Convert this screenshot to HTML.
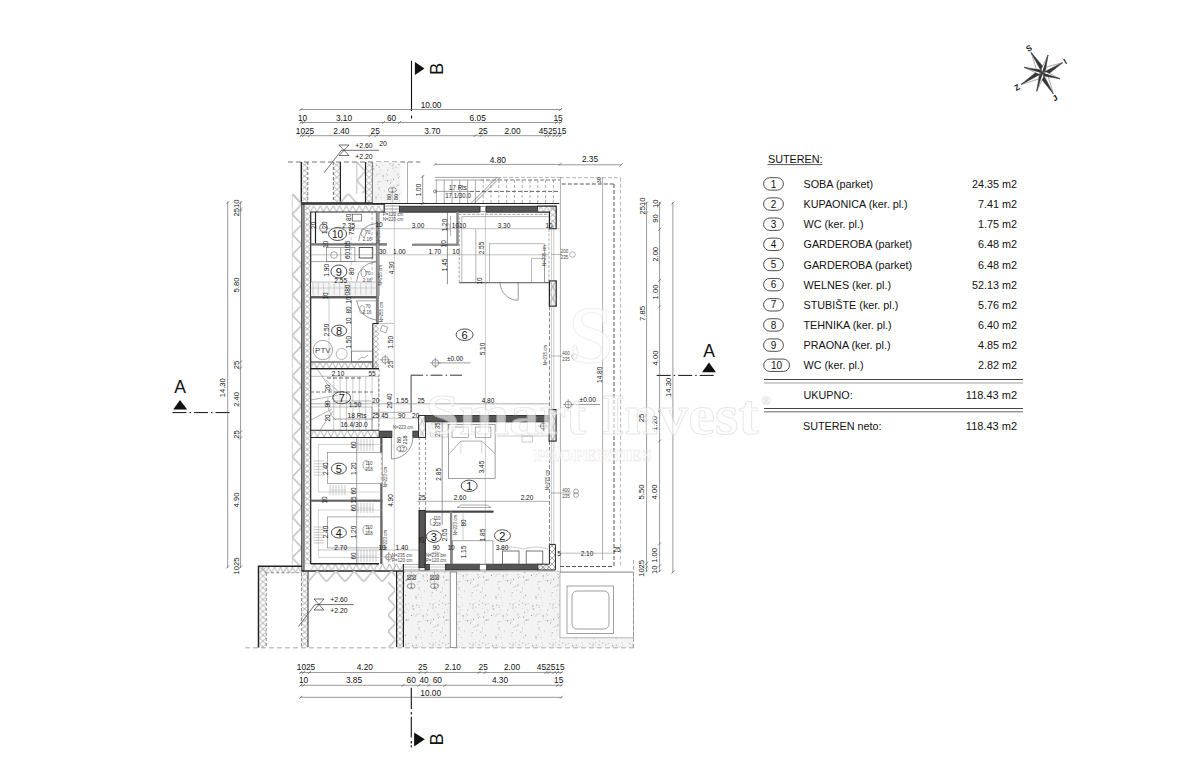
<!DOCTYPE html><html><head><meta charset="utf-8"><style>html,body{margin:0;padding:0;background:#fff;}svg{display:block;}text{font-family:"Liberation Sans",sans-serif;}</style></head><body>
<svg width="1200" height="771" viewBox="0 0 1200 771">
<defs>
<pattern id="xh" width="6" height="6" patternUnits="userSpaceOnUse"><path d="M0,0L6,6M6,0L0,6" stroke="#777" stroke-width="0.6"/></pattern>
<pattern id="zz" width="10" height="10" patternUnits="userSpaceOnUse"><path d="M0,0L10,10M10,0L0,10" stroke="#bbb" stroke-width="1.4"/></pattern>
<pattern id="st" width="40" height="40" patternUnits="userSpaceOnUse"><rect width="40" height="40" fill="#f3f3f3"/><circle cx="13.0" cy="6.0" r="0.51" fill="#777"/><circle cx="32.9" cy="3.8" r="0.50" fill="#bbb"/><circle cx="8.6" cy="3.4" r="0.45" fill="#888"/><circle cx="3.6" cy="17.0" r="0.56" fill="#777"/><circle cx="37.9" cy="25.2" r="0.50" fill="#777"/><circle cx="23.1" cy="15.9" r="0.59" fill="#777"/><circle cx="22.3" cy="5.3" r="0.45" fill="#bbb"/><circle cx="4.7" cy="12.3" r="0.55" fill="#888"/><circle cx="4.1" cy="22.8" r="0.40" fill="#777"/><circle cx="21.9" cy="2.5" r="0.36" fill="#888"/><circle cx="19.9" cy="21.3" r="0.54" fill="#aaa"/><circle cx="23.4" cy="18.1" r="0.42" fill="#888"/><circle cx="28.0" cy="9.8" r="0.49" fill="#bbb"/><circle cx="19.8" cy="13.7" r="0.46" fill="#bbb"/><circle cx="39.2" cy="4.7" r="0.45" fill="#999"/><circle cx="6.1" cy="19.6" r="0.36" fill="#777"/><circle cx="30.6" cy="22.9" r="0.57" fill="#999"/><circle cx="13.6" cy="14.0" r="0.47" fill="#aaa"/><circle cx="2.8" cy="3.7" r="0.42" fill="#777"/><circle cx="2.4" cy="28.1" r="0.51" fill="#aaa"/><circle cx="11.4" cy="15.4" r="0.52" fill="#777"/><circle cx="37.6" cy="14.2" r="0.50" fill="#aaa"/><circle cx="2.4" cy="30.7" r="0.38" fill="#888"/><circle cx="15.9" cy="36.7" r="0.47" fill="#888"/><circle cx="18.0" cy="22.0" r="0.57" fill="#aaa"/><circle cx="34.6" cy="11.1" r="0.45" fill="#999"/><circle cx="27.3" cy="15.2" r="0.41" fill="#777"/><circle cx="7.0" cy="9.3" r="0.41" fill="#aaa"/><circle cx="33.2" cy="7.3" r="0.42" fill="#888"/><circle cx="16.8" cy="14.8" r="0.49" fill="#888"/><circle cx="27.6" cy="20.6" r="0.50" fill="#777"/><circle cx="18.3" cy="34.8" r="0.59" fill="#bbb"/><circle cx="15.7" cy="16.0" r="0.38" fill="#aaa"/><circle cx="2.5" cy="2.7" r="0.40" fill="#888"/><circle cx="4.4" cy="24.0" r="0.38" fill="#bbb"/><circle cx="6.1" cy="4.1" r="0.44" fill="#777"/><circle cx="2.8" cy="8.3" r="0.44" fill="#999"/><circle cx="38.2" cy="24.1" r="0.47" fill="#777"/><circle cx="34.0" cy="39.7" r="0.47" fill="#aaa"/><circle cx="12.5" cy="5.8" r="0.54" fill="#999"/><circle cx="19.1" cy="27.7" r="0.48" fill="#888"/><circle cx="38.0" cy="21.1" r="0.39" fill="#bbb"/><circle cx="36.6" cy="30.3" r="0.42" fill="#777"/><circle cx="27.8" cy="10.4" r="0.44" fill="#888"/><circle cx="14.2" cy="8.9" r="0.49" fill="#bbb"/><circle cx="13.2" cy="8.9" r="0.55" fill="#888"/><circle cx="32.2" cy="32.7" r="0.53" fill="#888"/><circle cx="8.0" cy="19.7" r="0.53" fill="#777"/><circle cx="31.6" cy="18.9" r="0.40" fill="#bbb"/><circle cx="38.3" cy="17.9" r="0.58" fill="#999"/><circle cx="38.2" cy="14.6" r="0.41" fill="#888"/><circle cx="18.8" cy="13.5" r="0.47" fill="#bbb"/><circle cx="33.6" cy="19.2" r="0.51" fill="#777"/><circle cx="33.4" cy="4.8" r="0.45" fill="#888"/><circle cx="19.1" cy="7.1" r="0.55" fill="#999"/><circle cx="3.5" cy="37.8" r="0.53" fill="#aaa"/><circle cx="16.1" cy="37.9" r="0.53" fill="#888"/><circle cx="39.7" cy="1.1" r="0.50" fill="#aaa"/><circle cx="32.3" cy="5.8" r="0.56" fill="#aaa"/><circle cx="26.3" cy="14.0" r="0.49" fill="#888"/><circle cx="0.9" cy="32.0" r="0.53" fill="#777"/><circle cx="21.1" cy="37.3" r="0.46" fill="#888"/><circle cx="33.0" cy="8.4" r="0.41" fill="#999"/><circle cx="20.0" cy="30.5" r="0.43" fill="#bbb"/><circle cx="16.8" cy="5.2" r="0.58" fill="#999"/><circle cx="35.9" cy="26.5" r="0.55" fill="#bbb"/><circle cx="16.8" cy="36.7" r="0.48" fill="#bbb"/><circle cx="6.1" cy="20.4" r="0.57" fill="#888"/><circle cx="24.3" cy="31.0" r="0.39" fill="#888"/><circle cx="18.9" cy="29.0" r="0.49" fill="#999"/><circle cx="27.3" cy="21.2" r="0.47" fill="#777"/><circle cx="35.3" cy="2.3" r="0.40" fill="#777"/><circle cx="30.9" cy="20.3" r="0.49" fill="#777"/><circle cx="17.7" cy="24.5" r="0.48" fill="#bbb"/><circle cx="8.0" cy="11.1" r="0.48" fill="#aaa"/><circle cx="20.3" cy="9.9" r="0.48" fill="#999"/><circle cx="36.9" cy="35.7" r="0.40" fill="#aaa"/><circle cx="5.5" cy="4.9" r="0.46" fill="#777"/><circle cx="26.8" cy="17.1" r="0.40" fill="#999"/><circle cx="31.4" cy="35.9" r="0.39" fill="#999"/><circle cx="5.7" cy="35.3" r="0.59" fill="#888"/><circle cx="29.9" cy="3.8" r="0.57" fill="#888"/><circle cx="39.6" cy="33.3" r="0.39" fill="#aaa"/><circle cx="39.8" cy="16.2" r="0.46" fill="#999"/><circle cx="12.7" cy="28.9" r="0.35" fill="#bbb"/><circle cx="18.3" cy="28.1" r="0.45" fill="#bbb"/><circle cx="25.0" cy="20.5" r="0.37" fill="#888"/><circle cx="38.9" cy="4.2" r="0.42" fill="#777"/><circle cx="36.2" cy="7.3" r="0.54" fill="#aaa"/><circle cx="34.0" cy="27.0" r="0.59" fill="#aaa"/></pattern>
</defs>
<rect x="0" y="0" width="1200" height="771" fill="#fff" stroke="none" stroke-width="0.8" />
<path d="M1042.4,73 L1036.931803803282,71.15538341268542 L1031,52.3 Z" fill="#fff" stroke="#444" stroke-width="0.45"/>
<path d="M1042.4,73 L1043.7641961967183,67.39261658731458 L1031,52.3 Z" fill="#333" stroke="#333" stroke-width="0.5"/>
<path d="M1042.4,73 L1044.2644012765757,67.67160250357547 L1062.6,62.7 Z" fill="#fff" stroke="#444" stroke-width="0.45"/>
<path d="M1042.4,73 L1047.8075987234245,74.62039749642453 L1062.6,62.7 Z" fill="#333" stroke="#333" stroke-width="0.5"/>
<path d="M1042.4,73 L1047.816417868581,74.93375217463786 L1053.3,93.8 Z" fill="#fff" stroke="#444" stroke-width="0.45"/>
<path d="M1042.4,73 L1040.907582131419,78.55424782536214 L1053.3,93.8 Z" fill="#333" stroke="#333" stroke-width="0.5"/>
<path d="M1042.4,73 L1040.3941167623377,78.50538249687212 L1021,84.5 Z" fill="#fff" stroke="#444" stroke-width="0.45"/>
<path d="M1042.4,73 L1036.7018832376623,71.63461750312787 L1021,84.5 Z" fill="#333" stroke="#333" stroke-width="0.5"/>
<path d="M1042.4,73 L1041.3073150920725,69.10645358420028 L1048,55 Z" fill="#fff" stroke="#444" stroke-width="0.45"/>
<path d="M1042.4,73 L1045.5086849079278,70.41354641579973 L1048,55 Z" fill="#333" stroke="#333" stroke-width="0.5"/>
<path d="M1042.4,73 L1038.4369995053894,74.07547528084837 L1024,67.3 Z" fill="#fff" stroke="#444" stroke-width="0.45"/>
<path d="M1042.4,73 L1039.7390004946105,69.87252471915164 L1024,67.3 Z" fill="#333" stroke="#333" stroke-width="0.5"/>
<path d="M1042.4,73 L1046.2565738555681,71.9545345072416 L1060,78.8 Z" fill="#fff" stroke="#444" stroke-width="0.45"/>
<path d="M1042.4,73 L1044.8794261444318,76.13346549275839 L1060,78.8 Z" fill="#333" stroke="#333" stroke-width="0.5"/>
<path d="M1042.4,73 L1043.473445027888,76.9335184977451 L1036.7,91.2 Z" fill="#fff" stroke="#444" stroke-width="0.45"/>
<path d="M1042.4,73 L1039.2745549721121,75.6184815022549 L1036.7,91.2 Z" fill="#333" stroke="#333" stroke-width="0.5"/>
<text x="0" y="0" font-size="8" text-anchor="middle" fill="#111" font-weight="bold" dominant-baseline="central" transform="translate(1029 48.4) rotate(-30)" >S</text>
<text x="0" y="0" font-size="8" text-anchor="middle" fill="#111" font-weight="bold" dominant-baseline="central" transform="translate(1065.2 61.5) rotate(-30)" >I</text>
<text x="0" y="0" font-size="8" text-anchor="middle" fill="#111" font-weight="bold" dominant-baseline="central" transform="translate(1055.1 98.2) rotate(-30)" >J</text>
<text x="0" y="0" font-size="8" text-anchor="middle" fill="#111" font-weight="bold" dominant-baseline="central" transform="translate(1017.2 87.6) rotate(-30)" >Z</text>
<g>
<text x="0" y="0" font-size="10.8" text-anchor="start" fill="#111" font-weight="normal" dominant-baseline="central" transform="translate(768 158.6)" >SUTEREN:</text>
<line x1="767.5" y1="164.6" x2="822.5" y2="164.6" stroke="#111" stroke-width="0.7" />
<rect x="763.6" y="177.70000000000002" width="19.8" height="12.4" rx="6.2" fill="none" stroke="#222" stroke-width="0.8"/>
<text x="0" y="0" font-size="10" text-anchor="middle" fill="#111" font-weight="normal" dominant-baseline="central" transform="translate(773.5 184.0)" >1</text>
<text x="0" y="0" font-size="10.8" text-anchor="start" fill="#111" font-weight="normal" dominant-baseline="central" transform="translate(803.5 183.9)" >SOBA (parket)</text>
<text x="0" y="0" font-size="10.8" text-anchor="end" fill="#111" font-weight="normal" dominant-baseline="central" transform="translate(1017 183.9)" >24.35 m2</text>
<rect x="763.6" y="197.85000000000002" width="19.8" height="12.4" rx="6.2" fill="none" stroke="#222" stroke-width="0.8"/>
<text x="0" y="0" font-size="10" text-anchor="middle" fill="#111" font-weight="normal" dominant-baseline="central" transform="translate(773.5 204.15)" >2</text>
<text x="0" y="0" font-size="10.8" text-anchor="start" fill="#111" font-weight="normal" dominant-baseline="central" transform="translate(803.5 204.05)" >KUPAONICA (ker. pl.)</text>
<text x="0" y="0" font-size="10.8" text-anchor="end" fill="#111" font-weight="normal" dominant-baseline="central" transform="translate(1017 204.05)" >7.41 m2</text>
<rect x="763.6" y="218.0" width="19.8" height="12.4" rx="6.2" fill="none" stroke="#222" stroke-width="0.8"/>
<text x="0" y="0" font-size="10" text-anchor="middle" fill="#111" font-weight="normal" dominant-baseline="central" transform="translate(773.5 224.29999999999998)" >3</text>
<text x="0" y="0" font-size="10.8" text-anchor="start" fill="#111" font-weight="normal" dominant-baseline="central" transform="translate(803.5 224.2)" >WC (ker. pl.)</text>
<text x="0" y="0" font-size="10.8" text-anchor="end" fill="#111" font-weight="normal" dominant-baseline="central" transform="translate(1017 224.2)" >1.75 m2</text>
<rect x="763.6" y="238.15" width="19.8" height="12.4" rx="6.2" fill="none" stroke="#222" stroke-width="0.8"/>
<text x="0" y="0" font-size="10" text-anchor="middle" fill="#111" font-weight="normal" dominant-baseline="central" transform="translate(773.5 244.45)" >4</text>
<text x="0" y="0" font-size="10.8" text-anchor="start" fill="#111" font-weight="normal" dominant-baseline="central" transform="translate(803.5 244.35)" >GARDEROBA (parket)</text>
<text x="0" y="0" font-size="10.8" text-anchor="end" fill="#111" font-weight="normal" dominant-baseline="central" transform="translate(1017 244.35)" >6.48 m2</text>
<rect x="763.6" y="258.3" width="19.8" height="12.4" rx="6.2" fill="none" stroke="#222" stroke-width="0.8"/>
<text x="0" y="0" font-size="10" text-anchor="middle" fill="#111" font-weight="normal" dominant-baseline="central" transform="translate(773.5 264.6)" >5</text>
<text x="0" y="0" font-size="10.8" text-anchor="start" fill="#111" font-weight="normal" dominant-baseline="central" transform="translate(803.5 264.5)" >GARDEROBA (parket)</text>
<text x="0" y="0" font-size="10.8" text-anchor="end" fill="#111" font-weight="normal" dominant-baseline="central" transform="translate(1017 264.5)" >6.48 m2</text>
<rect x="763.6" y="278.45" width="19.8" height="12.4" rx="6.2" fill="none" stroke="#222" stroke-width="0.8"/>
<text x="0" y="0" font-size="10" text-anchor="middle" fill="#111" font-weight="normal" dominant-baseline="central" transform="translate(773.5 284.75)" >6</text>
<text x="0" y="0" font-size="10.8" text-anchor="start" fill="#111" font-weight="normal" dominant-baseline="central" transform="translate(803.5 284.65)" >WELNES (ker. pl.)</text>
<text x="0" y="0" font-size="10.8" text-anchor="end" fill="#111" font-weight="normal" dominant-baseline="central" transform="translate(1017 284.65)" >52.13 m2</text>
<rect x="763.6" y="298.6" width="19.8" height="12.4" rx="6.2" fill="none" stroke="#222" stroke-width="0.8"/>
<text x="0" y="0" font-size="10" text-anchor="middle" fill="#111" font-weight="normal" dominant-baseline="central" transform="translate(773.5 304.90000000000003)" >7</text>
<text x="0" y="0" font-size="10.8" text-anchor="start" fill="#111" font-weight="normal" dominant-baseline="central" transform="translate(803.5 304.8)" >STUBIŠTE (ker. pl.)</text>
<text x="0" y="0" font-size="10.8" text-anchor="end" fill="#111" font-weight="normal" dominant-baseline="central" transform="translate(1017 304.8)" >5.76 m2</text>
<rect x="763.6" y="318.75" width="19.8" height="12.4" rx="6.2" fill="none" stroke="#222" stroke-width="0.8"/>
<text x="0" y="0" font-size="10" text-anchor="middle" fill="#111" font-weight="normal" dominant-baseline="central" transform="translate(773.5 325.05)" >8</text>
<text x="0" y="0" font-size="10.8" text-anchor="start" fill="#111" font-weight="normal" dominant-baseline="central" transform="translate(803.5 324.95)" >TEHNIKA (ker. pl.)</text>
<text x="0" y="0" font-size="10.8" text-anchor="end" fill="#111" font-weight="normal" dominant-baseline="central" transform="translate(1017 324.95)" >6.40 m2</text>
<rect x="763.6" y="338.90000000000003" width="19.8" height="12.4" rx="6.2" fill="none" stroke="#222" stroke-width="0.8"/>
<text x="0" y="0" font-size="10" text-anchor="middle" fill="#111" font-weight="normal" dominant-baseline="central" transform="translate(773.5 345.20000000000005)" >9</text>
<text x="0" y="0" font-size="10.8" text-anchor="start" fill="#111" font-weight="normal" dominant-baseline="central" transform="translate(803.5 345.1)" >PRAONA (ker. pl.)</text>
<text x="0" y="0" font-size="10.8" text-anchor="end" fill="#111" font-weight="normal" dominant-baseline="central" transform="translate(1017 345.1)" >4.85 m2</text>
<rect x="763.7" y="359.05" width="25.8" height="12.4" rx="6.2" fill="none" stroke="#222" stroke-width="0.8"/>
<text x="0" y="0" font-size="10" text-anchor="middle" fill="#111" font-weight="normal" dominant-baseline="central" transform="translate(776.6 365.35)" >10</text>
<text x="0" y="0" font-size="10.8" text-anchor="start" fill="#111" font-weight="normal" dominant-baseline="central" transform="translate(803.5 365.25)" >WC (ker. pl.)</text>
<text x="0" y="0" font-size="10.8" text-anchor="end" fill="#111" font-weight="normal" dominant-baseline="central" transform="translate(1017 365.25)" >2.82 m2</text>
<line x1="764" y1="379.5" x2="1023" y2="379.5" stroke="#444" stroke-width="1" />
<line x1="764" y1="383" x2="1023" y2="383" stroke="#888" stroke-width="0.8" />
<text x="0" y="0" font-size="10.8" text-anchor="start" fill="#111" font-weight="normal" dominant-baseline="central" transform="translate(803.5 395)" >UKUPNO:</text>
<text x="0" y="0" font-size="11" text-anchor="end" fill="#111" font-weight="normal" dominant-baseline="central" transform="translate(1017 395)" >118.43 m2</text>
<line x1="764" y1="408.5" x2="1023" y2="408.5" stroke="#444" stroke-width="1" />
<line x1="764" y1="411.8" x2="1023" y2="411.8" stroke="#555" stroke-width="0.9" />
<text x="0" y="0" font-size="10.8" text-anchor="start" fill="#111" font-weight="normal" dominant-baseline="central" transform="translate(803 426)" >SUTEREN neto:</text>
<text x="0" y="0" font-size="11" text-anchor="end" fill="#111" font-weight="normal" dominant-baseline="central" transform="translate(1017 426)" >118.43 m2</text>
</g>
<line x1="411.5" y1="60.8" x2="411.5" y2="111" stroke="#111" stroke-width="1.1" />
<line x1="411.5" y1="115.5" x2="411.5" y2="118.5" stroke="#111" stroke-width="1.1" />
<path d="M414.9,62 L424.5,68.5 L414.9,75 Z" fill="#111"/>
<text x="0" y="0" font-size="18.5" text-anchor="middle" fill="#111" font-weight="normal" dominant-baseline="central" transform="translate(436.5 68.8) rotate(-90)" >B</text>
<line x1="411.3" y1="687.8" x2="411.3" y2="709" stroke="#111" stroke-width="1.1" />
<line x1="411.3" y1="712" x2="411.3" y2="714.5" stroke="#111" stroke-width="1.1" />
<line x1="411.3" y1="716.8" x2="411.3" y2="737.6" stroke="#111" stroke-width="1.1" />
<line x1="411.3" y1="741" x2="411.3" y2="743.5" stroke="#111" stroke-width="1.1" />
<line x1="411.3" y1="745.2" x2="411.3" y2="747.5" stroke="#111" stroke-width="1.1" />
<path d="M414.1,732.4 L424.8,739.3 L414.1,746.4 Z" fill="#111"/>
<text x="0" y="0" font-size="18.5" text-anchor="middle" fill="#111" font-weight="normal" dominant-baseline="central" transform="translate(436.5 739.4) rotate(-90)" >B</text>
<line x1="172.5" y1="412.6" x2="232.4" y2="412.6" stroke="#111" stroke-width="1.0" stroke-dasharray="14,3,1.5,3" />
<path d="M173.2,409.5 L180,400 L187.2,409.5 Z" fill="#111"/>
<text x="0" y="0" font-size="17.5" text-anchor="middle" fill="#111" font-weight="normal" dominant-baseline="central" transform="translate(180 387)" >A</text>
<line x1="656.7" y1="375.4" x2="716" y2="375.4" stroke="#111" stroke-width="1.0" stroke-dasharray="14,3,1.5,3" />
<path d="M702,372.3 L709,362.5 L716,372.3 Z" fill="#111"/>
<text x="0" y="0" font-size="17.5" text-anchor="middle" fill="#111" font-weight="normal" dominant-baseline="central" transform="translate(709 350.5)" >A</text>
<line x1="300" y1="109.5" x2="561.5" y2="109.5" stroke="#555" stroke-width="0.6" />
<line x1="299.5" y1="111.0" x2="302.5" y2="108.0" stroke="#444" stroke-width="0.6"/>
<line x1="559.0" y1="111.0" x2="562.0" y2="108.0" stroke="#444" stroke-width="0.6"/>
<text x="0" y="0" font-size="8.3" text-anchor="middle" fill="#111" font-weight="normal" dominant-baseline="central" transform="translate(431 104.8)" >10.00</text>
<line x1="300" y1="122.5" x2="561.5" y2="122.5" stroke="#555" stroke-width="0.6" />
<line x1="299.5" y1="124.0" x2="302.5" y2="121.0" stroke="#444" stroke-width="0.6"/>
<line x1="302.0" y1="124.0" x2="305.0" y2="121.0" stroke="#444" stroke-width="0.6"/>
<line x1="382.0" y1="124.0" x2="385.0" y2="121.0" stroke="#444" stroke-width="0.6"/>
<line x1="398.0" y1="124.0" x2="401.0" y2="121.0" stroke="#444" stroke-width="0.6"/>
<line x1="555.0" y1="124.0" x2="558.0" y2="121.0" stroke="#444" stroke-width="0.6"/>
<line x1="559.0" y1="124.0" x2="562.0" y2="121.0" stroke="#444" stroke-width="0.6"/>
<text x="0" y="0" font-size="8.3" text-anchor="middle" fill="#111" font-weight="normal" dominant-baseline="central" transform="translate(302.5 117.5)" >10</text>
<text x="0" y="0" font-size="8.3" text-anchor="middle" fill="#111" font-weight="normal" dominant-baseline="central" transform="translate(344 117.5)" >3.10</text>
<text x="0" y="0" font-size="8.3" text-anchor="middle" fill="#111" font-weight="normal" dominant-baseline="central" transform="translate(391.5 117.5)" >60</text>
<text x="0" y="0" font-size="8.3" text-anchor="middle" fill="#111" font-weight="normal" dominant-baseline="central" transform="translate(477.7 117.5)" >6.05</text>
<text x="0" y="0" font-size="8.3" text-anchor="middle" fill="#111" font-weight="normal" dominant-baseline="central" transform="translate(558 117.5)" >15</text>
<line x1="300" y1="135.7" x2="561.5" y2="135.7" stroke="#555" stroke-width="0.6" />
<line x1="299.5" y1="137.2" x2="302.5" y2="134.2" stroke="#444" stroke-width="0.6"/>
<line x1="302.0" y1="137.2" x2="305.0" y2="134.2" stroke="#444" stroke-width="0.6"/>
<line x1="308.0" y1="137.2" x2="311.0" y2="134.2" stroke="#444" stroke-width="0.6"/>
<line x1="368.5" y1="137.2" x2="371.5" y2="134.2" stroke="#444" stroke-width="0.6"/>
<line x1="374.5" y1="137.2" x2="377.5" y2="134.2" stroke="#444" stroke-width="0.6"/>
<line x1="473.5" y1="137.2" x2="476.5" y2="134.2" stroke="#444" stroke-width="0.6"/>
<line x1="479.5" y1="137.2" x2="482.5" y2="134.2" stroke="#444" stroke-width="0.6"/>
<line x1="544.5" y1="137.2" x2="547.5" y2="134.2" stroke="#444" stroke-width="0.6"/>
<line x1="547.5" y1="137.2" x2="550.5" y2="134.2" stroke="#444" stroke-width="0.6"/>
<line x1="552.5" y1="137.2" x2="555.5" y2="134.2" stroke="#444" stroke-width="0.6"/>
<line x1="556.0" y1="137.2" x2="559.0" y2="134.2" stroke="#444" stroke-width="0.6"/>
<line x1="559.0" y1="137.2" x2="562.0" y2="134.2" stroke="#444" stroke-width="0.6"/>
<text x="0" y="0" font-size="8.3" text-anchor="middle" fill="#111" font-weight="normal" dominant-baseline="central" transform="translate(305 130.8)" >1025</text>
<text x="0" y="0" font-size="8.3" text-anchor="middle" fill="#111" font-weight="normal" dominant-baseline="central" transform="translate(341.4 130.8)" >2.40</text>
<text x="0" y="0" font-size="8.3" text-anchor="middle" fill="#111" font-weight="normal" dominant-baseline="central" transform="translate(375.2 130.8)" >25</text>
<text x="0" y="0" font-size="8.3" text-anchor="middle" fill="#111" font-weight="normal" dominant-baseline="central" transform="translate(432.3 130.8)" >3.70</text>
<text x="0" y="0" font-size="8.3" text-anchor="middle" fill="#111" font-weight="normal" dominant-baseline="central" transform="translate(483 130.8)" >25</text>
<text x="0" y="0" font-size="8.3" text-anchor="middle" fill="#111" font-weight="normal" dominant-baseline="central" transform="translate(512.5 130.8)" >2.00</text>
<text x="0" y="0" font-size="8.3" text-anchor="middle" fill="#111" font-weight="normal" dominant-baseline="central" transform="translate(552.5 130.8)" >452515</text>
<line x1="299.8" y1="672.5" x2="562.3" y2="672.5" stroke="#555" stroke-width="0.6" />
<line x1="299.3" y1="674.0" x2="302.3" y2="671.0" stroke="#444" stroke-width="0.6"/>
<line x1="302.0" y1="674.0" x2="305.0" y2="671.0" stroke="#444" stroke-width="0.6"/>
<line x1="308.0" y1="674.0" x2="311.0" y2="671.0" stroke="#444" stroke-width="0.6"/>
<line x1="418.5" y1="674.0" x2="421.5" y2="671.0" stroke="#444" stroke-width="0.6"/>
<line x1="424.5" y1="674.0" x2="427.5" y2="671.0" stroke="#444" stroke-width="0.6"/>
<line x1="477.5" y1="674.0" x2="480.5" y2="671.0" stroke="#444" stroke-width="0.6"/>
<line x1="483.5" y1="674.0" x2="486.5" y2="671.0" stroke="#444" stroke-width="0.6"/>
<line x1="544.5" y1="674.0" x2="547.5" y2="671.0" stroke="#444" stroke-width="0.6"/>
<line x1="547.5" y1="674.0" x2="550.5" y2="671.0" stroke="#444" stroke-width="0.6"/>
<line x1="552.5" y1="674.0" x2="555.5" y2="671.0" stroke="#444" stroke-width="0.6"/>
<line x1="556.0" y1="674.0" x2="559.0" y2="671.0" stroke="#444" stroke-width="0.6"/>
<line x1="559.8" y1="674.0" x2="562.8" y2="671.0" stroke="#444" stroke-width="0.6"/>
<text x="0" y="0" font-size="8.3" text-anchor="middle" fill="#111" font-weight="normal" dominant-baseline="central" transform="translate(306 667.2)" >1025</text>
<text x="0" y="0" font-size="8.3" text-anchor="middle" fill="#111" font-weight="normal" dominant-baseline="central" transform="translate(364.8 667.2)" >4.20</text>
<text x="0" y="0" font-size="8.3" text-anchor="middle" fill="#111" font-weight="normal" dominant-baseline="central" transform="translate(422.7 667.2)" >25</text>
<text x="0" y="0" font-size="8.3" text-anchor="middle" fill="#111" font-weight="normal" dominant-baseline="central" transform="translate(452.8 667.2)" >2.10</text>
<text x="0" y="0" font-size="8.3" text-anchor="middle" fill="#111" font-weight="normal" dominant-baseline="central" transform="translate(483.2 667.2)" >25</text>
<text x="0" y="0" font-size="8.3" text-anchor="middle" fill="#111" font-weight="normal" dominant-baseline="central" transform="translate(512 667.2)" >2.00</text>
<text x="0" y="0" font-size="8.3" text-anchor="middle" fill="#111" font-weight="normal" dominant-baseline="central" transform="translate(550.7 667.2)" >452515</text>
<line x1="299.8" y1="685.3" x2="562.3" y2="685.3" stroke="#555" stroke-width="0.6" />
<line x1="299.3" y1="686.8" x2="302.3" y2="683.8" stroke="#444" stroke-width="0.6"/>
<line x1="302.0" y1="686.8" x2="305.0" y2="683.8" stroke="#444" stroke-width="0.6"/>
<line x1="401.5" y1="686.8" x2="404.5" y2="683.8" stroke="#444" stroke-width="0.6"/>
<line x1="417.5" y1="686.8" x2="420.5" y2="683.8" stroke="#444" stroke-width="0.6"/>
<line x1="427.5" y1="686.8" x2="430.5" y2="683.8" stroke="#444" stroke-width="0.6"/>
<line x1="443.5" y1="686.8" x2="446.5" y2="683.8" stroke="#444" stroke-width="0.6"/>
<line x1="556.0" y1="686.8" x2="559.0" y2="683.8" stroke="#444" stroke-width="0.6"/>
<line x1="559.8" y1="686.8" x2="562.8" y2="683.8" stroke="#444" stroke-width="0.6"/>
<text x="0" y="0" font-size="8.3" text-anchor="middle" fill="#111" font-weight="normal" dominant-baseline="central" transform="translate(303.5 680)" >10</text>
<text x="0" y="0" font-size="8.3" text-anchor="middle" fill="#111" font-weight="normal" dominant-baseline="central" transform="translate(354 680)" >3.85</text>
<text x="0" y="0" font-size="8.3" text-anchor="middle" fill="#111" font-weight="normal" dominant-baseline="central" transform="translate(411.2 680)" >60</text>
<text x="0" y="0" font-size="8.3" text-anchor="middle" fill="#111" font-weight="normal" dominant-baseline="central" transform="translate(424 680)" >40</text>
<text x="0" y="0" font-size="8.3" text-anchor="middle" fill="#111" font-weight="normal" dominant-baseline="central" transform="translate(437.3 680)" >60</text>
<text x="0" y="0" font-size="8.3" text-anchor="middle" fill="#111" font-weight="normal" dominant-baseline="central" transform="translate(500 680)" >4.30</text>
<text x="0" y="0" font-size="8.3" text-anchor="middle" fill="#111" font-weight="normal" dominant-baseline="central" transform="translate(558.7 680)" >15</text>
<line x1="299.8" y1="697.3" x2="562.3" y2="697.3" stroke="#555" stroke-width="0.6" />
<line x1="299.3" y1="698.8" x2="302.3" y2="695.8" stroke="#444" stroke-width="0.6"/>
<line x1="559.8" y1="698.8" x2="562.8" y2="695.8" stroke="#444" stroke-width="0.6"/>
<text x="0" y="0" font-size="8.3" text-anchor="middle" fill="#111" font-weight="normal" dominant-baseline="central" transform="translate(430.7 692.8)" >10.00</text>
<line x1="227.7" y1="201.6" x2="227.7" y2="568" stroke="#555" stroke-width="0.6" />
<line x1="226.2" y1="204.1" x2="229.2" y2="201.1" stroke="#444" stroke-width="0.6"/>
<line x1="226.2" y1="568.5" x2="229.2" y2="565.5" stroke="#444" stroke-width="0.6"/>
<line x1="240.6" y1="201.6" x2="240.6" y2="568" stroke="#555" stroke-width="0.6" />
<line x1="239.1" y1="204.1" x2="242.1" y2="201.1" stroke="#444" stroke-width="0.6"/>
<line x1="239.1" y1="210.5" x2="242.1" y2="207.5" stroke="#444" stroke-width="0.6"/>
<line x1="239.1" y1="212.5" x2="242.1" y2="209.5" stroke="#444" stroke-width="0.6"/>
<line x1="239.1" y1="363.5" x2="242.1" y2="360.5" stroke="#444" stroke-width="0.6"/>
<line x1="239.1" y1="369.5" x2="242.1" y2="366.5" stroke="#444" stroke-width="0.6"/>
<line x1="239.1" y1="433.5" x2="242.1" y2="430.5" stroke="#444" stroke-width="0.6"/>
<line x1="239.1" y1="439.5" x2="242.1" y2="436.5" stroke="#444" stroke-width="0.6"/>
<line x1="239.1" y1="568.5" x2="242.1" y2="565.5" stroke="#444" stroke-width="0.6"/>
<text x="0" y="0" font-size="8" text-anchor="middle" fill="#111" font-weight="normal" dominant-baseline="central" transform="translate(222.3 387.7) rotate(-90) scale(0.95 1)" >14.30</text>
<text x="0" y="0" font-size="8" text-anchor="middle" fill="#111" font-weight="normal" dominant-baseline="central" transform="translate(236 208) rotate(-90) scale(0.95 1)" >2510</text>
<text x="0" y="0" font-size="8" text-anchor="middle" fill="#111" font-weight="normal" dominant-baseline="central" transform="translate(236 285) rotate(-90) scale(0.95 1)" >5.80</text>
<text x="0" y="0" font-size="8" text-anchor="middle" fill="#111" font-weight="normal" dominant-baseline="central" transform="translate(236 365) rotate(-90) scale(0.95 1)" >25</text>
<text x="0" y="0" font-size="8" text-anchor="middle" fill="#111" font-weight="normal" dominant-baseline="central" transform="translate(236 399.4) rotate(-90) scale(0.95 1)" >2.40</text>
<text x="0" y="0" font-size="8" text-anchor="middle" fill="#111" font-weight="normal" dominant-baseline="central" transform="translate(236 434.4) rotate(-90) scale(0.95 1)" >25</text>
<text x="0" y="0" font-size="8" text-anchor="middle" fill="#111" font-weight="normal" dominant-baseline="central" transform="translate(236 500) rotate(-90) scale(0.95 1)" >4.90</text>
<text x="0" y="0" font-size="8" text-anchor="middle" fill="#111" font-weight="normal" dominant-baseline="central" transform="translate(236 566) rotate(-90) scale(0.95 1)" >1025</text>
<line x1="646.6" y1="202" x2="646.6" y2="572" stroke="#555" stroke-width="0.6" />
<line x1="645.1" y1="204.5" x2="648.1" y2="201.5" stroke="#444" stroke-width="0.6"/>
<line x1="645.1" y1="214.5" x2="648.1" y2="211.5" stroke="#444" stroke-width="0.6"/>
<line x1="645.1" y1="416.5" x2="648.1" y2="413.5" stroke="#444" stroke-width="0.6"/>
<line x1="645.1" y1="422.5" x2="648.1" y2="419.5" stroke="#444" stroke-width="0.6"/>
<line x1="645.1" y1="565.0" x2="648.1" y2="562.0" stroke="#444" stroke-width="0.6"/>
<line x1="645.1" y1="569.0" x2="648.1" y2="566.0" stroke="#444" stroke-width="0.6"/>
<line x1="645.1" y1="572.5" x2="648.1" y2="569.5" stroke="#444" stroke-width="0.6"/>
<line x1="659.6" y1="202" x2="659.6" y2="572" stroke="#555" stroke-width="0.6" />
<line x1="658.1" y1="204.5" x2="661.1" y2="201.5" stroke="#444" stroke-width="0.6"/>
<line x1="658.1" y1="206.0" x2="661.1" y2="203.0" stroke="#444" stroke-width="0.6"/>
<line x1="658.1" y1="230.9" x2="661.1" y2="227.9" stroke="#444" stroke-width="0.6"/>
<line x1="658.1" y1="281.9" x2="661.1" y2="278.9" stroke="#444" stroke-width="0.6"/>
<line x1="658.1" y1="308.2" x2="661.1" y2="305.2" stroke="#444" stroke-width="0.6"/>
<line x1="658.1" y1="411.9" x2="661.1" y2="408.9" stroke="#444" stroke-width="0.6"/>
<line x1="658.1" y1="442.5" x2="661.1" y2="439.5" stroke="#444" stroke-width="0.6"/>
<line x1="658.1" y1="545.3" x2="661.1" y2="542.3" stroke="#444" stroke-width="0.6"/>
<line x1="658.1" y1="567.3" x2="661.1" y2="564.3" stroke="#444" stroke-width="0.6"/>
<line x1="658.1" y1="572.5" x2="661.1" y2="569.5" stroke="#444" stroke-width="0.6"/>
<line x1="672.9" y1="202" x2="672.9" y2="573" stroke="#555" stroke-width="0.6" />
<line x1="671.4" y1="204.5" x2="674.4" y2="201.5" stroke="#444" stroke-width="0.6"/>
<line x1="671.4" y1="573.5" x2="674.4" y2="570.5" stroke="#444" stroke-width="0.6"/>
<text x="0" y="0" font-size="8" text-anchor="middle" fill="#111" font-weight="normal" dominant-baseline="central" transform="translate(642 313.5) rotate(-90) scale(0.95 1)" >7.85</text>
<text x="0" y="0" font-size="8" text-anchor="middle" fill="#111" font-weight="normal" dominant-baseline="central" transform="translate(668.4 387.4) rotate(-90) scale(0.95 1)" >14.30</text>
<text x="0" y="0" font-size="8" text-anchor="middle" fill="#111" font-weight="normal" dominant-baseline="central" transform="translate(642 206) rotate(-90) scale(0.95 1)" >2510</text>
<text x="0" y="0" font-size="8" text-anchor="middle" fill="#111" font-weight="normal" dominant-baseline="central" transform="translate(655.2 203.7) rotate(-90) scale(0.95 1)" >10</text>
<text x="0" y="0" font-size="8" text-anchor="middle" fill="#111" font-weight="normal" dominant-baseline="central" transform="translate(655.2 218.5) rotate(-90) scale(0.95 1)" >90</text>
<text x="0" y="0" font-size="8" text-anchor="middle" fill="#111" font-weight="normal" dominant-baseline="central" transform="translate(655.2 254.3) rotate(-90) scale(0.95 1)" >2.00</text>
<text x="0" y="0" font-size="8" text-anchor="middle" fill="#111" font-weight="normal" dominant-baseline="central" transform="translate(655 292) rotate(-90) scale(0.95 1)" >1.00</text>
<text x="0" y="0" font-size="8" text-anchor="middle" fill="#111" font-weight="normal" dominant-baseline="central" transform="translate(655 358) rotate(-90) scale(0.95 1)" >4.00</text>
<text x="0" y="0" font-size="8" text-anchor="middle" fill="#111" font-weight="normal" dominant-baseline="central" transform="translate(641.3 418.1) rotate(-90) scale(0.95 1)" >25</text>
<text x="0" y="0" font-size="8" text-anchor="middle" fill="#111" font-weight="normal" dominant-baseline="central" transform="translate(654.8 423.3) rotate(-90) scale(0.95 1)" >1.20</text>
<text x="0" y="0" font-size="8" text-anchor="middle" fill="#111" font-weight="normal" dominant-baseline="central" transform="translate(641.3 492) rotate(-90) scale(0.95 1)" >5.50</text>
<text x="0" y="0" font-size="8" text-anchor="middle" fill="#111" font-weight="normal" dominant-baseline="central" transform="translate(654.8 492) rotate(-90) scale(0.95 1)" >4.00</text>
<text x="0" y="0" font-size="8" text-anchor="middle" fill="#111" font-weight="normal" dominant-baseline="central" transform="translate(654.8 555.4) rotate(-90) scale(0.95 1)" >1.00</text>
<text x="0" y="0" font-size="8" text-anchor="middle" fill="#111" font-weight="normal" dominant-baseline="central" transform="translate(641 568.4) rotate(-90) scale(0.95 1)" >1025</text>
<text x="0" y="0" font-size="8" text-anchor="middle" fill="#111" font-weight="normal" dominant-baseline="central" transform="translate(654.8 569.7) rotate(-90) scale(0.95 1)" >10</text>
<line x1="288" y1="162" x2="420.3" y2="162" stroke="#777" stroke-width="1.0" stroke-dasharray="5,3" />
<rect x="292.6" y="194" width="8.7" height="10" fill="url(#p0)" stroke="none" stroke-width="0.8" />
<rect x="301.3" y="162" width="6.5" height="41" fill="url(#p1)" stroke="none" stroke-width="0.8" />
<line x1="301.3" y1="162" x2="301.3" y2="204" stroke="#222" stroke-width="1.4" />
<line x1="307.8" y1="162" x2="307.8" y2="203" stroke="#555" stroke-width="0.8" stroke-dasharray="3,2" />
<rect x="333.4" y="162" width="7" height="41" fill="url(#p2)" stroke="none" stroke-width="0.8" />
<line x1="333.4" y1="162" x2="333.4" y2="203" stroke="#555" stroke-width="0.8" stroke-dasharray="3,2" />
<line x1="340.4" y1="162" x2="340.4" y2="203" stroke="#222" stroke-width="1.2" />
<rect x="340.4" y="193.5" width="16.4" height="9.3" fill="url(#p3)" stroke="none" stroke-width="0.8" />
<rect x="356.8" y="162" width="8.7" height="31.5" fill="url(#p4)" stroke="none" stroke-width="0.8" />
<line x1="356.8" y1="162" x2="356.8" y2="193.5" stroke="#999" stroke-width="0.6" />
<rect x="365.5" y="162" width="7" height="41" fill="url(#p5)" stroke="none" stroke-width="0.8" />
<line x1="365.5" y1="162" x2="365.5" y2="203" stroke="#222" stroke-width="1.2" />
<line x1="372.5" y1="162" x2="372.5" y2="203" stroke="#222" stroke-width="1.2" />
<rect x="372.5" y="162" width="28" height="40.8" fill="url(#st)" stroke="none" stroke-width="0.8" />
<line x1="407.5" y1="162" x2="407.5" y2="203" stroke="#777" stroke-width="0.6" />
<line x1="301.3" y1="202.8" x2="372.5" y2="202.8" stroke="#222" stroke-width="1.2" />
<line x1="324" y1="172.9" x2="341.4" y2="150.3" stroke="#333" stroke-width="0.7" />
<path d="M339,145 L349,145 L339,155.5 L349,155.5 Z" fill="none" stroke="#333" stroke-width="0.7"/>
<line x1="341" y1="150.3" x2="379" y2="150.3" stroke="#333" stroke-width="0.7" />
<text x="0" y="0" font-size="7.6" text-anchor="middle" fill="#111" font-weight="normal" dominant-baseline="central" transform="translate(364 145) scale(0.9 1)" >+2.60</text>
<text x="0" y="0" font-size="7.6" text-anchor="middle" fill="#111" font-weight="normal" dominant-baseline="central" transform="translate(364 156) scale(0.9 1)" >+2.20</text>
<text x="0" y="0" font-size="7.6" text-anchor="middle" fill="#111" font-weight="normal" dominant-baseline="central" transform="translate(383 143) scale(0.9 1)" >20</text>
<rect x="292.3" y="194" width="9.4" height="373" fill="url(#p6)" stroke="none" stroke-width="0.8" />
<line x1="292.3" y1="194" x2="292.3" y2="567" stroke="#aaa" stroke-width="0.5" />
<rect x="301.6" y="204" width="2.5" height="367" fill="#999" stroke="#333" stroke-width="0.75" />
<line x1="302" y1="204" x2="384.2" y2="204" stroke="#222" stroke-width="1.6" />
<line x1="384.2" y1="204" x2="384.2" y2="212" stroke="#222" stroke-width="1.2" />
<rect x="304.2" y="205.5" width="6.3" height="358.5" fill="url(#p7)" stroke="none" stroke-width="0.8" />
<rect x="310.5" y="205.5" width="73.7" height="6.5" fill="url(#p8)" stroke="none" stroke-width="0.8" />
<line x1="310.7" y1="212" x2="310.7" y2="564" stroke="#222" stroke-width="1.2" />
<line x1="310.7" y1="212" x2="384.2" y2="212" stroke="#222" stroke-width="1.2" />
<line x1="384.2" y1="206" x2="400" y2="206" stroke="#666" stroke-width="0.6" />
<line x1="384.2" y1="209" x2="400" y2="209" stroke="#666" stroke-width="0.6" />
<line x1="384.2" y1="212" x2="400" y2="212" stroke="#666" stroke-width="0.6" />
<rect x="399.5" y="206.2" width="80" height="6" fill="#555" stroke="#222" stroke-width="0.8" />
<rect x="486.2" y="206.2" width="51.4" height="6" fill="#555" stroke="#222" stroke-width="0.8" />
<rect x="480.5" y="206.5" width="5" height="5.3" fill="#fff" stroke="#444" stroke-width="0.6" />
<rect x="537.6" y="206.2" width="18.6" height="6" fill="url(#p9)" stroke="none" stroke-width="0.8" />
<rect x="549.4" y="206.2" width="6.8" height="22.5" fill="url(#p10)" stroke="none" stroke-width="0.8" />
<path d="M537.6,206.2 L556.2,206.2 L556.2,228.7 L549.4,228.7 L549.4,212.2 L537.6,212.2" fill="none" stroke="#222" stroke-width="1.2"/>
<line x1="435" y1="164.4" x2="560" y2="164.4" stroke="#555" stroke-width="0.6" />
<line x1="433.5" y1="165.9" x2="436.5" y2="162.9" stroke="#444" stroke-width="0.6"/>
<line x1="558.5" y1="165.9" x2="561.5" y2="162.9" stroke="#444" stroke-width="0.6"/>
<text x="0" y="0" font-size="8.3" text-anchor="middle" fill="#111" font-weight="normal" dominant-baseline="central" transform="translate(497.8 159.5)" >4.80</text>
<line x1="560" y1="164.8" x2="621.2" y2="164.8" stroke="#555" stroke-width="0.6" />
<line x1="619.7" y1="166.3" x2="622.7" y2="163.3" stroke="#444" stroke-width="0.6"/>
<text x="0" y="0" font-size="8.3" text-anchor="middle" fill="#111" font-weight="normal" dominant-baseline="central" transform="translate(590 159)" >2.35</text>
<line x1="435" y1="177.4" x2="497" y2="177.4" stroke="#666" stroke-width="0.6" />
<line x1="497" y1="177.4" x2="560" y2="177.4" stroke="#888" stroke-width="0.6" stroke-dasharray="4,2" />
<line x1="435" y1="180" x2="480" y2="180" stroke="#666" stroke-width="0.6" />
<line x1="480" y1="180" x2="560" y2="180" stroke="#666" stroke-width="0.9" stroke-dasharray="4,2" />
<line x1="435" y1="191.4" x2="470" y2="191.4" stroke="#666" stroke-width="0.6" />
<line x1="470" y1="191.4" x2="559" y2="191.4" stroke="#555" stroke-width="0.9" stroke-dasharray="4,2" />
<line x1="436.4" y1="180" x2="436.4" y2="203.5" stroke="#666" stroke-width="0.55" />
<line x1="444.2" y1="180" x2="444.2" y2="203.5" stroke="#666" stroke-width="0.55" />
<line x1="452.0" y1="180" x2="452.0" y2="203.5" stroke="#666" stroke-width="0.55" />
<line x1="459.79999999999995" y1="180" x2="459.79999999999995" y2="203.5" stroke="#666" stroke-width="0.55" />
<line x1="467.59999999999997" y1="180" x2="467.59999999999997" y2="203.5" stroke="#666" stroke-width="0.55" />
<line x1="475.4" y1="180" x2="475.4" y2="203.5" stroke="#666" stroke-width="0.55" />
<line x1="483.2" y1="180" x2="483.2" y2="203.5" stroke="#777" stroke-width="0.6" stroke-dasharray="3,2" />
<line x1="491.0" y1="180" x2="491.0" y2="203.5" stroke="#777" stroke-width="0.6" stroke-dasharray="3,2" />
<line x1="498.79999999999995" y1="180" x2="498.79999999999995" y2="203.5" stroke="#777" stroke-width="0.6" stroke-dasharray="3,2" />
<line x1="506.59999999999997" y1="180" x2="506.59999999999997" y2="203.5" stroke="#777" stroke-width="0.6" stroke-dasharray="3,2" />
<line x1="514.4" y1="180" x2="514.4" y2="203.5" stroke="#777" stroke-width="0.6" stroke-dasharray="3,2" />
<line x1="522.1999999999999" y1="180" x2="522.1999999999999" y2="203.5" stroke="#777" stroke-width="0.6" stroke-dasharray="3,2" />
<line x1="530.0" y1="180" x2="530.0" y2="203.5" stroke="#777" stroke-width="0.6" stroke-dasharray="3,2" />
<line x1="537.8" y1="180" x2="537.8" y2="203.5" stroke="#777" stroke-width="0.6" stroke-dasharray="3,2" />
<line x1="545.6" y1="180" x2="545.6" y2="203.5" stroke="#777" stroke-width="0.6" stroke-dasharray="3,2" />
<line x1="553.4" y1="180" x2="553.4" y2="203.5" stroke="#777" stroke-width="0.6" stroke-dasharray="3,2" />
<line x1="471.4" y1="203" x2="497" y2="177.4" stroke="#555" stroke-width="0.6" />
<line x1="474.5" y1="203" x2="500" y2="177.4" stroke="#555" stroke-width="0.6" />
<line x1="372.5" y1="203.5" x2="559.3" y2="203.5" stroke="#222" stroke-width="1.0" />
<text x="0" y="0" font-size="7" text-anchor="middle" fill="#222" font-weight="normal" dominant-baseline="central" transform="translate(458 187.5) scale(0.88 1)" >17 Rts</text>
<text x="0" y="0" font-size="7" text-anchor="middle" fill="#222" font-weight="normal" dominant-baseline="central" transform="translate(458 195.3) scale(0.88 1)" >17.1/30.0</text>
<line x1="560" y1="177.7" x2="620.6" y2="177.7" stroke="#888" stroke-width="0.6" stroke-dasharray="4,2" />
<line x1="620.6" y1="177.7" x2="620.6" y2="567" stroke="#888" stroke-width="0.6" stroke-dasharray="4,2" />
<line x1="561.8" y1="184" x2="614" y2="184" stroke="#555" stroke-width="1.0" stroke-dasharray="4,2" />
<line x1="614" y1="184" x2="614" y2="566.5" stroke="#555" stroke-width="1.0" stroke-dasharray="4,2" />
<line x1="560" y1="566.5" x2="614" y2="566.5" stroke="#555" stroke-width="1.0" stroke-dasharray="4,2" />
<line x1="602.6" y1="177" x2="602.6" y2="560" stroke="#777" stroke-width="0.6" />
<line x1="560.4" y1="177" x2="560.4" y2="572" stroke="#777" stroke-width="0.6" />
<rect x="549.4" y="280.9" width="6.8" height="25.3" fill="url(#p11)" stroke="#222" stroke-width="1.2" />
<line x1="549.5" y1="306.2" x2="549.5" y2="409.6" stroke="#555" stroke-width="0.7" stroke-dasharray="4,2" />
<line x1="549.5" y1="441" x2="549.5" y2="544" stroke="#555" stroke-width="0.7" stroke-dasharray="4,2" />
<line x1="551.6" y1="228.7" x2="551.6" y2="544" stroke="#999" stroke-width="0.5" />
<line x1="553.8" y1="228.7" x2="553.8" y2="544" stroke="#999" stroke-width="0.5" />
<rect x="537.8" y="564.2" width="11.6" height="5.8" fill="url(#p12)" stroke="none" stroke-width="0.8" />
<path d="M537.8,564.2 L549.4,564.2 L549.4,544.4 L555.4,544.4 L555.4,570 L537.8,570" fill="url(#xh)" stroke="#222" stroke-width="1.0"/>
<line x1="302" y1="571" x2="403.4" y2="571" stroke="#222" stroke-width="1.6" />
<rect x="310.7" y="564" width="68" height="7" fill="url(#p13)" stroke="none" stroke-width="0.8" />
<line x1="310.7" y1="564" x2="379" y2="564" stroke="#222" stroke-width="1.2" />
<line x1="403.4" y1="571" x2="403.4" y2="564" stroke="#222" stroke-width="1.2" />
<rect x="379" y="563.8" width="24" height="7" fill="url(#p14)" stroke="none" stroke-width="0.8" />
<rect x="419.1" y="510.5" width="6.1" height="57.2" fill="#555" stroke="#222" stroke-width="0.8" />
<rect x="419.1" y="563.8" width="6.1" height="6.4" fill="#fff" stroke="#333" stroke-width="0.6" />
<line x1="403.4" y1="564.5" x2="419.1" y2="564.5" stroke="#666" stroke-width="0.5" />
<line x1="403.4" y1="567" x2="419.1" y2="567" stroke="#888" stroke-width="0.5" />
<line x1="403.4" y1="570" x2="419.1" y2="570" stroke="#555" stroke-width="0.6" />
<line x1="425.2" y1="564.5" x2="445.5" y2="564.5" stroke="#666" stroke-width="0.5" />
<line x1="425.2" y1="567" x2="445.5" y2="567" stroke="#888" stroke-width="0.5" />
<line x1="425.2" y1="570" x2="445.5" y2="570" stroke="#555" stroke-width="0.6" />
<line x1="425.2" y1="511.7" x2="493.4" y2="511.7" stroke="#444" stroke-width="1.8" />
<rect x="445.5" y="564.2" width="33.9" height="5.8" fill="#555" stroke="#222" stroke-width="0.8" />
<rect x="486.4" y="564.2" width="51.4" height="5.8" fill="#555" stroke="#222" stroke-width="0.8" />
<rect x="479.4" y="564.2" width="7" height="5.8" fill="#fff" stroke="#333" stroke-width="0.6" />
<line x1="403.5" y1="572.2" x2="633.5" y2="572.2" stroke="#333" stroke-width="1.1" />
<rect x="403.5" y="572" width="230" height="75.6" fill="url(#st)" stroke="none" stroke-width="0.8" />
<rect x="450.2" y="572" width="6.5" height="75.6" fill="#fff" stroke="#555" stroke-width="0.6" />
<line x1="245" y1="647.8" x2="633.5" y2="647.8" stroke="#999" stroke-width="0.8" stroke-dasharray="5,3" />
<rect x="560" y="572.5" width="73.5" height="65.3" fill="#fff" stroke="#999" stroke-width="0.7" />
<line x1="633.5" y1="560" x2="633.5" y2="648" stroke="#888" stroke-width="0.7" stroke-dasharray="4,2" />
<rect x="567" y="586" width="46.6" height="47.5" fill="none" stroke="#777" stroke-width="0.7" />
<rect x="572" y="591" width="37" height="38" rx="5" fill="none" stroke="#777" stroke-width="0.7"/>
<path d="M258.5,647.4 L258.5,566.3 L302,566.3" fill="none" stroke="#222" stroke-width="1.5"/>
<rect x="259.5" y="567" width="6.8" height="80.4" fill="url(#p15)" stroke="none" stroke-width="0.8" />
<rect x="259.5" y="567" width="42.5" height="6" fill="url(#p16)" stroke="none" stroke-width="0.8" />
<line x1="266.3" y1="573" x2="266.3" y2="647" stroke="#666" stroke-width="0.7" stroke-dasharray="3,2" />
<line x1="266.3" y1="572.8" x2="301.3" y2="572.8" stroke="#666" stroke-width="0.7" stroke-dasharray="3,2" />
<line x1="301.5" y1="573" x2="301.5" y2="647" stroke="#666" stroke-width="0.7" stroke-dasharray="3,2" />
<rect x="301.3" y="571" width="6.7" height="76.4" fill="url(#p17)" stroke="none" stroke-width="0.8" />
<line x1="308" y1="571" x2="308" y2="647" stroke="#333" stroke-width="1.0" />
<rect x="308" y="571" width="87.6" height="10.9" fill="url(#p18)" stroke="none" stroke-width="0.8" />
<rect x="387.9" y="581.9" width="7.7" height="65.5" fill="url(#p19)" stroke="none" stroke-width="0.8" />
<rect x="396.6" y="571" width="6.8" height="76.4" fill="url(#p20)" stroke="none" stroke-width="0.8" />
<line x1="396.6" y1="571" x2="396.6" y2="647" stroke="#222" stroke-width="1.2" />
<line x1="403.4" y1="571" x2="403.4" y2="647" stroke="#222" stroke-width="1.2" />
<line x1="298.4" y1="626.6" x2="314.9" y2="604.6" stroke="#333" stroke-width="0.7" />
<path d="M314,599 L324,599 L314,610 L324,610 Z" fill="none" stroke="#333" stroke-width="0.7"/>
<line x1="314.9" y1="604.6" x2="353.8" y2="604.6" stroke="#333" stroke-width="0.7" />
<text x="0" y="0" font-size="7.6" text-anchor="middle" fill="#111" font-weight="normal" dominant-baseline="central" transform="translate(339 599) scale(0.9 1)" >+2.60</text>
<text x="0" y="0" font-size="7.6" text-anchor="middle" fill="#111" font-weight="normal" dominant-baseline="central" transform="translate(339 610) scale(0.9 1)" >+2.20</text>
<line x1="315.5" y1="212" x2="315.5" y2="243.2" stroke="#222" stroke-width="1.2" />
<rect x="310.7" y="243.2" width="76.2" height="2.4" fill="#777" stroke="none" stroke-width="0.8" />
<line x1="376.4" y1="212" x2="376.4" y2="323.5" stroke="#333" stroke-width="0.8" />
<line x1="378.9" y1="212" x2="378.9" y2="296" stroke="#333" stroke-width="0.8" />
<rect x="376.4" y="212" width="2.5" height="84" fill="#999" stroke="none" stroke-width="0.8" />
<line x1="372.1" y1="212" x2="372.1" y2="296" stroke="#777" stroke-width="0.6" stroke-dasharray="3,2" />
<line x1="351.2" y1="212" x2="351.2" y2="296" stroke="#999" stroke-width="0.5" stroke-dasharray="3,2" />
<ellipse cx="337.6" cy="234" rx="9" ry="6.5" fill="none" stroke="#222" stroke-width="0.8"/>
<text x="0" y="0" font-size="10" text-anchor="middle" fill="#111" font-weight="normal" dominant-baseline="central" transform="translate(337.6 234.3)" >10</text>
<circle cx="323.5" cy="227.8" r="4" fill="none" stroke="#555" stroke-width="0.7"/>
<rect x="352.4" y="214.2" width="9.2" height="6.8" fill="none" stroke="#555" stroke-width="0.7" />
<path d="M358.6,241.3 Q360,225 376,223.5" fill="none" stroke="#555" stroke-width="0.6"/>
<ellipse cx="363.5" cy="232.7" rx="2.5" ry="4" fill="none" stroke="#777" stroke-width="0.6"/>
<line x1="320" y1="228.7" x2="560" y2="228.7" stroke="#888" stroke-width="0.5" />
<rect x="326.6" y="247.5" width="28.3" height="14.1" fill="none" stroke="#666" stroke-width="0.6" />
<line x1="340.7" y1="247.5" x2="340.7" y2="261.6" stroke="#666" stroke-width="0.6" />
<circle cx="334" cy="255" r="3.3" fill="none" stroke="#666" stroke-width="0.6"/>
<rect x="359.2" y="247.5" width="13.5" height="10.5" fill="none" stroke="#444" stroke-width="0.9" />
<line x1="310.7" y1="261.6" x2="376.4" y2="261.6" stroke="#666" stroke-width="0.6" />
<ellipse cx="338.9" cy="271.5" rx="8" ry="6.5" fill="none" stroke="#222" stroke-width="0.8"/>
<text x="0" y="0" font-size="11" text-anchor="middle" fill="#111" font-weight="normal" dominant-baseline="central" transform="translate(338.9 271.8)" >9</text>
<path d="M356.7,281.4 Q358,264 376.4,261.6" fill="none" stroke="#555" stroke-width="0.6"/>
<ellipse cx="363.5" cy="273" rx="2.5" ry="4" fill="none" stroke="#777" stroke-width="0.6"/>
<rect x="311" y="282" width="65" height="14" fill="#f4f4f4" stroke="none" stroke-width="0.8" />
<line x1="313.0" y1="283" x2="313.0" y2="295" stroke="#999" stroke-width="0.4" />
<line x1="318.3" y1="283" x2="318.3" y2="295" stroke="#999" stroke-width="0.4" />
<line x1="323.6" y1="283" x2="323.6" y2="295" stroke="#999" stroke-width="0.4" />
<line x1="328.9" y1="283" x2="328.9" y2="295" stroke="#999" stroke-width="0.4" />
<line x1="334.2" y1="283" x2="334.2" y2="295" stroke="#999" stroke-width="0.4" />
<line x1="339.5" y1="283" x2="339.5" y2="295" stroke="#999" stroke-width="0.4" />
<line x1="344.8" y1="283" x2="344.8" y2="295" stroke="#999" stroke-width="0.4" />
<line x1="350.1" y1="283" x2="350.1" y2="295" stroke="#999" stroke-width="0.4" />
<line x1="355.4" y1="283" x2="355.4" y2="295" stroke="#999" stroke-width="0.4" />
<line x1="360.7" y1="283" x2="360.7" y2="295" stroke="#999" stroke-width="0.4" />
<line x1="366.0" y1="283" x2="366.0" y2="295" stroke="#999" stroke-width="0.4" />
<line x1="371.3" y1="283" x2="371.3" y2="295" stroke="#999" stroke-width="0.4" />
<line x1="311" y1="282" x2="376" y2="282" stroke="#888" stroke-width="0.5" />
<line x1="311" y1="288" x2="376" y2="288" stroke="#aaa" stroke-width="0.5" />
<rect x="310.7" y="296.1" width="68" height="2.3" fill="#555" stroke="none" stroke-width="0.8" />
<line x1="310.7" y1="362" x2="372.8" y2="362" stroke="#222" stroke-width="1.2" />
<rect x="310.7" y="362" width="68" height="6.2" fill="url(#p21)" stroke="none" stroke-width="0.8" />
<line x1="310.7" y1="368.7" x2="379" y2="368.7" stroke="#222" stroke-width="1.2" />
<rect x="372.8" y="323.5" width="5.9" height="45" fill="url(#p22)" stroke="none" stroke-width="0.8" />
<rect x="376.5" y="296" width="2.4" height="27.5" fill="#888" stroke="none" stroke-width="0.8" />
<path d="M372.8,368 L372.8,323.5 L378.7,323.5" fill="none" stroke="#222" stroke-width="1.0"/>
<ellipse cx="339.1" cy="330.6" rx="7.5" ry="5.5" fill="none" stroke="#222" stroke-width="0.8"/>
<text x="0" y="0" font-size="11" text-anchor="middle" fill="#111" font-weight="normal" dominant-baseline="central" transform="translate(339.1 330.90000000000003)" >8</text>
<circle cx="322.9" cy="350" r="9.7" fill="none" stroke="#666" stroke-width="0.6"/>
<text x="0" y="0" font-size="8" text-anchor="middle" fill="#444" font-weight="normal" dominant-baseline="central" transform="translate(322.9 350.5)" >PTV</text>
<circle cx="341.7" cy="354" r="5.5" fill="none" stroke="#888" stroke-width="0.6"/>
<rect x="351.7" y="351.1" width="21.1" height="10.9" fill="none" stroke="#555" stroke-width="0.6" />
<path d="M358,360 L362,357 L364,358 L368,355" fill="none" stroke="#555" stroke-width="0.5"/>
<path d="M356.6,300.8 Q360,318 376.7,320.2" fill="none" stroke="#555" stroke-width="0.6"/>
<line x1="356.6" y1="300.8" x2="376.7" y2="300.8" stroke="#777" stroke-width="0.6" />
<line x1="351.4" y1="300" x2="351.4" y2="362" stroke="#666" stroke-width="0.6" />
<line x1="329" y1="298" x2="329" y2="362" stroke="#999" stroke-width="0.5" />
<ellipse cx="362" cy="309.5" rx="2.5" ry="4" fill="none" stroke="#777" stroke-width="0.6"/>
<rect x="381" y="326" width="6" height="6" fill="none" stroke="#777" stroke-width="0.6" transform="rotate(20 384 329)"/>
<circle cx="385.2" cy="359.8" r="3.3" fill="none" stroke="#555" stroke-width="0.6"/>
<line x1="379.9" y1="359.8" x2="390.5" y2="359.8" stroke="#555" stroke-width="0.5" />
<line x1="385.2" y1="354.5" x2="385.2" y2="365.1" stroke="#555" stroke-width="0.5" />
<line x1="378.7" y1="323.5" x2="394" y2="323.5" stroke="#888" stroke-width="0.5" />
<line x1="310.7" y1="368.7" x2="379" y2="368.7" stroke="#222" stroke-width="1.2" />
<line x1="310.7" y1="376.3" x2="379" y2="376.3" stroke="#777" stroke-width="0.5" />
<line x1="310.7" y1="407" x2="372" y2="407" stroke="#777" stroke-width="0.5" />
<line x1="333.7" y1="376.3" x2="333.7" y2="430" stroke="#999" stroke-width="0.5" />
<line x1="340.09999999999997" y1="376.3" x2="340.09999999999997" y2="430" stroke="#999" stroke-width="0.5" />
<line x1="346.5" y1="376.3" x2="346.5" y2="430" stroke="#999" stroke-width="0.5" />
<line x1="352.9" y1="376.3" x2="352.9" y2="430" stroke="#999" stroke-width="0.5" />
<line x1="359.3" y1="376.3" x2="359.3" y2="430" stroke="#999" stroke-width="0.5" />
<line x1="365.7" y1="376.3" x2="365.7" y2="430" stroke="#999" stroke-width="0.5" />
<line x1="372.1" y1="376.3" x2="372.1" y2="430" stroke="#999" stroke-width="0.5" />
<line x1="378.5" y1="376.3" x2="378.5" y2="430" stroke="#999" stroke-width="0.5" />
<line x1="327" y1="378" x2="361" y2="378" stroke="#555" stroke-width="0.9" stroke-dasharray="4,2" />
<line x1="310" y1="392" x2="373" y2="392" stroke="#666" stroke-width="0.9" stroke-dasharray="4,2" />
<line x1="333" y1="401" x2="371" y2="401" stroke="#666" stroke-width="0.5" />
<line x1="333.7" y1="419" x2="373" y2="419" stroke="#666" stroke-width="0.6" />
<path d="M326,380 L341,394 M311,400 L338,395 M311,420 L332,409 M320,430 L333,411 M318,370 L332,391" fill="none" stroke="#666" stroke-width="0.5"/>
<path d="M336,420 A22,22 0 0,1 328,398" fill="none" stroke="#777" stroke-width="0.5"/>
<ellipse cx="341.7" cy="397.7" rx="9" ry="6" fill="none" stroke="#222" stroke-width="0.8"/>
<text x="0" y="0" font-size="11" text-anchor="middle" fill="#111" font-weight="normal" dominant-baseline="central" transform="translate(341.7 398.0)" >7</text>
<line x1="379" y1="368.7" x2="379" y2="430" stroke="#666" stroke-width="0.7" stroke-dasharray="3,2" />
<line x1="394.3" y1="212" x2="394.3" y2="571" stroke="#999" stroke-width="0.5" />
<line x1="310.7" y1="430.3" x2="379" y2="430.3" stroke="#222" stroke-width="1.0" />
<rect x="310.7" y="430.3" width="68.3" height="6.7" fill="url(#p23)" stroke="none" stroke-width="0.8" />
<rect x="379" y="431" width="13" height="6.5" fill="#555" stroke="#222" stroke-width="0.6" />
<rect x="412.8" y="431" width="5.8" height="6.5" fill="#555" stroke="#222" stroke-width="0.6" />
<rect x="418.6" y="415.5" width="7" height="22" fill="url(#p24)" stroke="#222" stroke-width="0.9" />
<rect x="425" y="415.4" width="124.2" height="6.5" fill="#555" stroke="#222" stroke-width="0.8" />
<line x1="310.7" y1="437.5" x2="392" y2="437.5" stroke="#222" stroke-width="1.0" />
<line x1="411.1" y1="375.2" x2="411.1" y2="412.3" stroke="#333" stroke-width="0.9" />
<line x1="411.1" y1="375.2" x2="463.6" y2="375.2" stroke="#333" stroke-width="1.0" stroke-dasharray="12,3,1.5,3" />
<line x1="311" y1="403.8" x2="549.2" y2="403.8" stroke="#777" stroke-width="0.6" />
<line x1="372" y1="412.3" x2="411" y2="412.3" stroke="#777" stroke-width="0.6" />
<line x1="372" y1="418.2" x2="419" y2="418.2" stroke="#888" stroke-width="0.5" />
<line x1="372" y1="407" x2="372" y2="430" stroke="#777" stroke-width="0.6" />
<path d="M391.4,437.5 L391.4,458.9 A21.4,21.4 0 0,0 412.8,437.5" fill="none" stroke="#555" stroke-width="0.6"/>
<ellipse cx="401.9" cy="448.8" rx="5" ry="3" fill="none" stroke="#444" stroke-width="0.6"/>
<text x="0" y="0" font-size="5" text-anchor="middle" fill="#444" font-weight="normal" dominant-baseline="central" transform="translate(401.9 449)" >17</text>
<rect x="380.2" y="437.5" width="2.3" height="15" fill="#555" stroke="none" stroke-width="0.8" />
<line x1="381.3" y1="452" x2="381.3" y2="483" stroke="#888" stroke-width="0.6" stroke-dasharray="3,2" />
<rect x="380.2" y="483.5" width="2.3" height="80.5" fill="#666" stroke="none" stroke-width="0.8" />
<rect x="310.7" y="499.6" width="71.8" height="2.2" fill="#666" stroke="none" stroke-width="0.8" />
<line x1="356.7" y1="437.5" x2="356.7" y2="564" stroke="#666" stroke-width="0.6" />
<rect x="327.6" y="452.6" width="54.6" height="31" fill="none" stroke="#777" stroke-width="0.6" />
<rect x="327.6" y="516.9" width="54.6" height="31" fill="none" stroke="#777" stroke-width="0.6" />
<rect x="318.2" y="444.7" width="64" height="47.3" fill="none" stroke="#aaa" stroke-width="0.5" />
<rect x="318.2" y="510" width="64" height="47.3" fill="none" stroke="#aaa" stroke-width="0.5" />
<ellipse cx="338.9" cy="468.6" rx="7.5" ry="5.5" fill="none" stroke="#222" stroke-width="0.8"/>
<text x="0" y="0" font-size="11" text-anchor="middle" fill="#111" font-weight="normal" dominant-baseline="central" transform="translate(338.9 468.90000000000003)" >5</text>
<ellipse cx="338.9" cy="532.5" rx="7.5" ry="5.5" fill="none" stroke="#222" stroke-width="0.8"/>
<text x="0" y="0" font-size="11" text-anchor="middle" fill="#111" font-weight="normal" dominant-baseline="central" transform="translate(338.9 532.8)" >4</text>
<line x1="358.0" y1="438.5" x2="358.0" y2="451" stroke="#888" stroke-width="0.45" />
<line x1="361.0" y1="438.5" x2="361.0" y2="451" stroke="#888" stroke-width="0.45" />
<line x1="364.0" y1="438.5" x2="364.0" y2="451" stroke="#888" stroke-width="0.45" />
<line x1="367.0" y1="438.5" x2="367.0" y2="451" stroke="#888" stroke-width="0.45" />
<line x1="370.0" y1="438.5" x2="370.0" y2="451" stroke="#888" stroke-width="0.45" />
<line x1="373.0" y1="438.5" x2="373.0" y2="451" stroke="#888" stroke-width="0.45" />
<line x1="358" y1="444.75" x2="373" y2="444.75" stroke="#aaa" stroke-width="0.4" />
<line x1="330.0" y1="485" x2="330.0" y2="495" stroke="#888" stroke-width="0.45" />
<line x1="333.0" y1="485" x2="333.0" y2="495" stroke="#888" stroke-width="0.45" />
<line x1="336.0" y1="485" x2="336.0" y2="495" stroke="#888" stroke-width="0.45" />
<line x1="339.0" y1="485" x2="339.0" y2="495" stroke="#888" stroke-width="0.45" />
<line x1="342.0" y1="485" x2="342.0" y2="495" stroke="#888" stroke-width="0.45" />
<line x1="345.0" y1="485" x2="345.0" y2="495" stroke="#888" stroke-width="0.45" />
<line x1="330" y1="490.0" x2="345" y2="490.0" stroke="#aaa" stroke-width="0.4" />
<line x1="358.0" y1="503" x2="358.0" y2="513" stroke="#888" stroke-width="0.45" />
<line x1="361.0" y1="503" x2="361.0" y2="513" stroke="#888" stroke-width="0.45" />
<line x1="364.0" y1="503" x2="364.0" y2="513" stroke="#888" stroke-width="0.45" />
<line x1="367.0" y1="503" x2="367.0" y2="513" stroke="#888" stroke-width="0.45" />
<line x1="370.0" y1="503" x2="370.0" y2="513" stroke="#888" stroke-width="0.45" />
<line x1="373.0" y1="503" x2="373.0" y2="513" stroke="#888" stroke-width="0.45" />
<line x1="358" y1="508.0" x2="373" y2="508.0" stroke="#aaa" stroke-width="0.4" />
<line x1="358.0" y1="550" x2="358.0" y2="562" stroke="#888" stroke-width="0.45" />
<line x1="361.0" y1="550" x2="361.0" y2="562" stroke="#888" stroke-width="0.45" />
<line x1="364.0" y1="550" x2="364.0" y2="562" stroke="#888" stroke-width="0.45" />
<line x1="367.0" y1="550" x2="367.0" y2="562" stroke="#888" stroke-width="0.45" />
<line x1="370.0" y1="550" x2="370.0" y2="562" stroke="#888" stroke-width="0.45" />
<line x1="373.0" y1="550" x2="373.0" y2="562" stroke="#888" stroke-width="0.45" />
<line x1="376.0" y1="550" x2="376.0" y2="562" stroke="#888" stroke-width="0.45" />
<line x1="358" y1="556.0" x2="376" y2="556.0" stroke="#aaa" stroke-width="0.4" />
<line x1="313.5" y1="461.0" x2="324" y2="461.0" stroke="#888" stroke-width="0.45" />
<line x1="313.5" y1="463.8" x2="324" y2="463.8" stroke="#888" stroke-width="0.45" />
<line x1="313.5" y1="466.6" x2="324" y2="466.6" stroke="#888" stroke-width="0.45" />
<line x1="313.5" y1="469.4" x2="324" y2="469.4" stroke="#888" stroke-width="0.45" />
<line x1="313.5" y1="472.2" x2="324" y2="472.2" stroke="#888" stroke-width="0.45" />
<line x1="313.5" y1="475.0" x2="324" y2="475.0" stroke="#888" stroke-width="0.45" />
<line x1="313.5" y1="527.0" x2="324" y2="527.0" stroke="#888" stroke-width="0.45" />
<line x1="313.5" y1="529.6666666666666" x2="324" y2="529.6666666666666" stroke="#888" stroke-width="0.45" />
<line x1="313.5" y1="532.3333333333334" x2="324" y2="532.3333333333334" stroke="#888" stroke-width="0.45" />
<line x1="313.5" y1="535.0" x2="324" y2="535.0" stroke="#888" stroke-width="0.45" />
<line x1="313.5" y1="537.6666666666666" x2="324" y2="537.6666666666666" stroke="#888" stroke-width="0.45" />
<line x1="313.5" y1="540.3333333333334" x2="324" y2="540.3333333333334" stroke="#888" stroke-width="0.45" />
<line x1="313.5" y1="543.0" x2="324" y2="543.0" stroke="#888" stroke-width="0.45" />
<ellipse cx="366" cy="465" rx="3" ry="4.5" fill="none" stroke="#777" stroke-width="0.6"/>
<ellipse cx="366" cy="530" rx="3" ry="4.5" fill="none" stroke="#777" stroke-width="0.6"/>
<line x1="310.7" y1="563.5" x2="379" y2="563.5" stroke="#222" stroke-width="1.0" />
<line x1="318" y1="550" x2="419" y2="550" stroke="#888" stroke-width="0.5" />
<circle cx="388.7" cy="557" r="3" fill="none" stroke="#555" stroke-width="0.6"/>
<line x1="383.7" y1="557" x2="393.7" y2="557" stroke="#555" stroke-width="0.5" />
<line x1="388.7" y1="552" x2="388.7" y2="562" stroke="#555" stroke-width="0.5" />
<rect x="456.3" y="212" width="2.3" height="32.7" fill="#888" stroke="none" stroke-width="0.8" />
<rect x="412" y="243.6" width="46.6" height="2.3" fill="#888" stroke="none" stroke-width="0.8" />
<path d="M459.2,282.6 L459.2,214.3 L549,214.3" fill="none" stroke="#666" stroke-width="0.6" stroke-dasharray="3,1.5"/>
<path d="M461.8,281.5 L461.8,216.6 L549,216.6" fill="none" stroke="#888" stroke-width="0.6"/>
<line x1="549" y1="229" x2="549" y2="281" stroke="#777" stroke-width="0.6" stroke-dasharray="3,1.5" />
<line x1="459.2" y1="282.6" x2="549" y2="282.6" stroke="#666" stroke-width="1.2" />
<line x1="475.8" y1="229" x2="475.8" y2="282.6" stroke="#888" stroke-width="0.6" />
<rect x="489.6" y="243.8" width="54.8" height="38.8" fill="none" stroke="#888" stroke-width="0.6" />
<rect x="531.7" y="258.2" width="12.7" height="24.4" fill="none" stroke="#888" stroke-width="0.6" />
<path d="M500,282.6 A18.2,18.2 0 0,0 518.2,300.3 L518.2,282.6" fill="none" stroke="#555" stroke-width="0.6"/>
<line x1="485.4" y1="212" x2="485.4" y2="564" stroke="#999" stroke-width="0.5" />
<line x1="447.4" y1="212" x2="447.4" y2="284.3" stroke="#444" stroke-width="0.6" />
<line x1="311" y1="254.8" x2="549" y2="254.8" stroke="#888" stroke-width="0.5" />
<ellipse cx="464.6" cy="334.7" rx="8.5" ry="5.8" fill="none" stroke="#222" stroke-width="0.8"/>
<text x="0" y="0" font-size="11" text-anchor="middle" fill="#111" font-weight="normal" dominant-baseline="central" transform="translate(464.6 335.0)" >6</text>
<circle cx="435.4" cy="362.9" r="3.3" fill="none" stroke="#555" stroke-width="0.6"/>
<line x1="430.09999999999997" y1="362.9" x2="440.7" y2="362.9" stroke="#555" stroke-width="0.5" />
<line x1="435.4" y1="357.59999999999997" x2="435.4" y2="368.2" stroke="#555" stroke-width="0.5" />
<line x1="439" y1="362.9" x2="470.4" y2="362.9" stroke="#555" stroke-width="0.6" />
<circle cx="568.2" cy="404.5" r="3.3" fill="none" stroke="#555" stroke-width="0.6"/>
<line x1="562.9000000000001" y1="404.5" x2="573.5" y2="404.5" stroke="#555" stroke-width="0.5" />
<line x1="568.2" y1="399.2" x2="568.2" y2="409.8" stroke="#555" stroke-width="0.5" />
<line x1="572" y1="404.5" x2="600" y2="404.5" stroke="#555" stroke-width="0.6" />
<line x1="450.5" y1="216" x2="450.5" y2="236" stroke="#888" stroke-width="0.6" />
<ellipse cx="448" cy="227" rx="2.2" ry="3" fill="none" stroke="#888" stroke-width="0.5"/>
<rect x="549.1" y="409.6" width="7" height="31.5" fill="url(#p25)" stroke="#222" stroke-width="1.1" />
<rect x="448.4" y="424.5" width="46.7" height="54" fill="none" stroke="#777" stroke-width="0.7" />
<rect x="452" y="427" width="16.5" height="10.5" fill="none" stroke="#777" stroke-width="0.6" />
<rect x="475.3" y="427" width="15.6" height="10.5" fill="none" stroke="#777" stroke-width="0.6" />
<path d="M449.4,453.6 L460.9,441.1 L481.6,441.1 L495.1,453.6" fill="none" stroke="#777" stroke-width="0.6"/>
<line x1="460.9" y1="441.1" x2="460.9" y2="453.6" stroke="#999" stroke-width="0.4" />
<line x1="481.6" y1="441.1" x2="481.6" y2="453.6" stroke="#999" stroke-width="0.4" />
<rect x="430.8" y="424" width="17" height="13" fill="none" stroke="#aaa" stroke-width="0.5" />
<line x1="497.2" y1="436" x2="548" y2="436" stroke="#999" stroke-width="0.5" />
<rect x="522" y="436" width="10.5" height="6" fill="none" stroke="#999" stroke-width="0.5" />
<circle cx="543.4" cy="426.1" r="3" fill="none" stroke="#555" stroke-width="0.6"/>
<line x1="538.4" y1="426.1" x2="548.4" y2="426.1" stroke="#555" stroke-width="0.5" />
<line x1="543.4" y1="421.1" x2="543.4" y2="431.1" stroke="#555" stroke-width="0.5" />
<ellipse cx="469.2" cy="485.8" rx="8" ry="5.7" fill="none" stroke="#222" stroke-width="0.8"/>
<text x="0" y="0" font-size="11" text-anchor="middle" fill="#111" font-weight="normal" dominant-baseline="central" transform="translate(469.2 486.1)" >1</text>
<line x1="417" y1="501.3" x2="549" y2="501.3" stroke="#777" stroke-width="0.6" />
<line x1="442.2" y1="421" x2="442.2" y2="525" stroke="#555" stroke-width="0.6" />
<line x1="425.6" y1="437" x2="425.6" y2="510" stroke="#666" stroke-width="0.7" stroke-dasharray="3,2" />
<line x1="419.3" y1="437" x2="419.3" y2="510" stroke="#666" stroke-width="0.7" stroke-dasharray="3,2" />
<circle cx="576" cy="491.5" r="2.4" fill="none" stroke="#555" stroke-width="0.5"/>
<circle cx="576" cy="495" r="2.4" fill="none" stroke="#555" stroke-width="0.5"/>
<line x1="551" y1="493" x2="571" y2="493" stroke="#666" stroke-width="0.5" />
<rect x="419.1" y="510.5" width="6.1" height="57.2" fill="#555" stroke="#222" stroke-width="0.8" />
<rect x="425" y="564.2" width="4.6" height="5.8" fill="#555" stroke="#222" stroke-width="0.6" />
<line x1="425.2" y1="511.7" x2="493.4" y2="511.7" stroke="#444" stroke-width="1.8" />
<path d="M457,507.5 L491,507.5 L487,505 L461,505 Z" fill="none" stroke="#777" stroke-width="0.6"/>
<rect x="450" y="511.7" width="2.2" height="52.5" fill="#888" stroke="none" stroke-width="0.8" />
<rect x="452.5" y="540.8" width="40.5" height="23.4" fill="none" stroke="#666" stroke-width="0.6" />
<line x1="463" y1="512" x2="463" y2="540" stroke="#999" stroke-width="0.5" />
<rect x="502.4" y="551" width="16.6" height="13.2" fill="none" stroke="#555" stroke-width="0.8" />
<rect x="526.2" y="551" width="16.6" height="13.2" fill="none" stroke="#555" stroke-width="0.8" />
<path d="M497,549 Q510,545 523,549 Q536,545 548,549" fill="none" stroke="#999" stroke-width="0.5"/>
<ellipse cx="502.4" cy="535.6" rx="8" ry="5.8" fill="none" stroke="#222" stroke-width="0.8"/>
<text x="0" y="0" font-size="11" text-anchor="middle" fill="#111" font-weight="normal" dominant-baseline="central" transform="translate(502.4 535.9)" >2</text>
<ellipse cx="433.9" cy="536.6" rx="7.5" ry="5.8" fill="none" stroke="#222" stroke-width="0.8"/>
<text x="0" y="0" font-size="11" text-anchor="middle" fill="#111" font-weight="normal" dominant-baseline="central" transform="translate(433.9 536.9)" >3</text>
<ellipse cx="433" cy="522" rx="3" ry="3.5" fill="none" stroke="#777" stroke-width="0.6"/>
<path d="M428,556 Q436,548 444,556" fill="none" stroke="#777" stroke-width="0.5"/>
<text x="0" y="0" font-size="7.4" text-anchor="middle" fill="#111" font-weight="normal" dominant-baseline="central" transform="translate(313 225.3) rotate(-90) scale(0.88 1)" >20</text>
<text x="0" y="0" font-size="7.4" text-anchor="middle" fill="#111" font-weight="normal" dominant-baseline="central" transform="translate(324.7 227.8) rotate(-90) scale(0.88 1)" >1.20</text>
<text x="0" y="0" font-size="7.4" text-anchor="middle" fill="#111" font-weight="normal" dominant-baseline="central" transform="translate(348.7 225.3) scale(0.88 1)" >2.35</text>
<text x="0" y="0" font-size="7.4" text-anchor="middle" fill="#111" font-weight="normal" dominant-baseline="central" transform="translate(348.1 217.3) rotate(-90) scale(0.88 1)" >80</text>
<text x="0" y="0" font-size="7.4" text-anchor="middle" fill="#111" font-weight="normal" dominant-baseline="central" transform="translate(351.6 231.5) rotate(-90) scale(0.88 1)" >75</text>
<text x="0" y="0" font-size="7.4" text-anchor="middle" fill="#111" font-weight="normal" dominant-baseline="central" transform="translate(325.3 244.4) rotate(-90) scale(0.88 1)" >10</text>
<text x="0" y="0" font-size="7.4" text-anchor="middle" fill="#111" font-weight="normal" dominant-baseline="central" transform="translate(346.9 250) rotate(-90) scale(0.88 1)" >60105</text>
<text x="0" y="0" font-size="7.4" text-anchor="middle" fill="#111" font-weight="normal" dominant-baseline="central" transform="translate(326 270.3) rotate(-90) scale(0.88 1)" >1.90</text>
<text x="0" y="0" font-size="7.4" text-anchor="middle" fill="#111" font-weight="normal" dominant-baseline="central" transform="translate(351.2 271.5) rotate(-90) scale(0.88 1)" >80</text>
<text x="0" y="0" font-size="7.4" text-anchor="middle" fill="#111" font-weight="normal" dominant-baseline="central" transform="translate(340.7 280.4) scale(0.88 1)" >2.55</text>
<text x="0" y="0" font-size="7.4" text-anchor="middle" fill="#111" font-weight="normal" dominant-baseline="central" transform="translate(347.5 290) rotate(-90) scale(0.88 1)" >080</text>
<text x="0" y="0" font-size="7.4" text-anchor="middle" fill="#111" font-weight="normal" dominant-baseline="central" transform="translate(325.3 296) rotate(-90) scale(0.88 1)" >10</text>
<text x="0" y="0" font-size="7.4" text-anchor="middle" fill="#111" font-weight="normal" dominant-baseline="central" transform="translate(391.2 267.8) rotate(-90) scale(0.88 1)" >4.30</text>
<text x="0" y="0" font-size="7.4" text-anchor="middle" fill="#111" font-weight="normal" dominant-baseline="central" transform="translate(378.9 224.7) scale(0.88 1)" >10</text>
<text x="0" y="0" font-size="4.5" text-anchor="middle" fill="#444" font-weight="normal" dominant-baseline="central" transform="translate(378.9 233.3) rotate(-90)" >N=255 cm</text>
<text x="0" y="0" font-size="4.5" text-anchor="middle" fill="#444" font-weight="normal" dominant-baseline="central" transform="translate(380.7 275.2) rotate(-90)" >N=255 cm</text>
<text x="0" y="0" font-size="4.5" text-anchor="middle" fill="#444" font-weight="normal" dominant-baseline="central" transform="translate(393 214.2)" >P=120 cm</text>
<text x="0" y="0" font-size="4.5" text-anchor="middle" fill="#444" font-weight="normal" dominant-baseline="central" transform="translate(393 219.2)" >N=220 cm</text>
<text x="0" y="0" font-size="4.5" text-anchor="middle" fill="#444" font-weight="normal" dominant-baseline="central" transform="translate(368 232)" >70</text>
<text x="0" y="0" font-size="4.5" text-anchor="middle" fill="#444" font-weight="normal" dominant-baseline="central" transform="translate(367 239)" >2.16</text>
<text x="0" y="0" font-size="4.5" text-anchor="middle" fill="#444" font-weight="normal" dominant-baseline="central" transform="translate(368 273)" >70</text>
<text x="0" y="0" font-size="4.5" text-anchor="middle" fill="#444" font-weight="normal" dominant-baseline="central" transform="translate(367 280)" >2.16</text>
<text x="0" y="0" font-size="7.4" text-anchor="middle" fill="#111" font-weight="normal" dominant-baseline="central" transform="translate(326 330) rotate(-90) scale(0.88 1)" >2.50</text>
<text x="0" y="0" font-size="7.4" text-anchor="middle" fill="#111" font-weight="normal" dominant-baseline="central" transform="translate(348.2 342.3) rotate(-90) scale(0.88 1)" >1.50</text>
<text x="0" y="0" font-size="7.4" text-anchor="middle" fill="#111" font-weight="normal" dominant-baseline="central" transform="translate(348 300) rotate(-90) scale(0.88 1)" >10</text>
<text x="0" y="0" font-size="7.4" text-anchor="middle" fill="#111" font-weight="normal" dominant-baseline="central" transform="translate(348 310) rotate(-90) scale(0.88 1)" >80</text>
<text x="0" y="0" font-size="7.4" text-anchor="middle" fill="#111" font-weight="normal" dominant-baseline="central" transform="translate(348 321) rotate(-90) scale(0.88 1)" >10</text>
<text x="0" y="0" font-size="7.4" text-anchor="middle" fill="#111" font-weight="normal" dominant-baseline="central" transform="translate(390.4 342.3) rotate(-90) scale(0.88 1)" >1.50</text>
<text x="0" y="0" font-size="7.4" text-anchor="middle" fill="#111" font-weight="normal" dominant-baseline="central" transform="translate(390 364.3) rotate(-90) scale(0.88 1)" >25</text>
<text x="0" y="0" font-size="4.5" text-anchor="middle" fill="#444" font-weight="normal" dominant-baseline="central" transform="translate(381 312) rotate(-90)" >N=255 cm</text>
<text x="0" y="0" font-size="4.5" text-anchor="middle" fill="#444" font-weight="normal" dominant-baseline="central" transform="translate(368 306)" >70</text>
<text x="0" y="0" font-size="4.5" text-anchor="middle" fill="#444" font-weight="normal" dominant-baseline="central" transform="translate(367 312)" >2.16</text>
<text x="0" y="0" font-size="7.4" text-anchor="middle" fill="#111" font-weight="normal" dominant-baseline="central" transform="translate(338 373) scale(0.88 1)" >2.10</text>
<text x="0" y="0" font-size="7.4" text-anchor="middle" fill="#111" font-weight="normal" dominant-baseline="central" transform="translate(372 373) scale(0.88 1)" >55</text>
<text x="0" y="0" font-size="7.4" text-anchor="middle" fill="#111" font-weight="normal" dominant-baseline="central" transform="translate(355 404) scale(0.88 1)" >1.50</text>
<text x="0" y="0" font-size="7.4" text-anchor="middle" fill="#111" font-weight="normal" dominant-baseline="central" transform="translate(375.7 400.3) scale(0.88 1)" >20</text>
<text x="0" y="0" font-size="7.4" text-anchor="middle" fill="#111" font-weight="normal" dominant-baseline="central" transform="translate(402 400) scale(0.88 1)" >1.55</text>
<text x="0" y="0" font-size="7.4" text-anchor="middle" fill="#111" font-weight="normal" dominant-baseline="central" transform="translate(421 400) scale(0.88 1)" >25</text>
<text x="0" y="0" font-size="7.4" text-anchor="middle" fill="#111" font-weight="normal" dominant-baseline="central" transform="translate(357 415) scale(0.88 1)" >18 Rts</text>
<text x="0" y="0" font-size="7.4" text-anchor="middle" fill="#111" font-weight="normal" dominant-baseline="central" transform="translate(354 424) scale(0.88 1)" >16.4/30.0</text>
<text x="0" y="0" font-size="7.4" text-anchor="middle" fill="#111" font-weight="normal" dominant-baseline="central" transform="translate(380.3 415.4) scale(0.88 1)" >25 45</text>
<text x="0" y="0" font-size="7.4" text-anchor="middle" fill="#111" font-weight="normal" dominant-baseline="central" transform="translate(401.7 415.4) scale(0.88 1)" >90</text>
<text x="0" y="0" font-size="7.4" text-anchor="middle" fill="#111" font-weight="normal" dominant-baseline="central" transform="translate(415.7 415) scale(0.88 1)" >20</text>
<text x="0" y="0" font-size="7.4" text-anchor="middle" fill="#111" font-weight="normal" dominant-baseline="central" transform="translate(389.7 397) rotate(-90) scale(0.88 1)" >40</text>
<text x="0" y="0" font-size="7.4" text-anchor="middle" fill="#111" font-weight="normal" dominant-baseline="central" transform="translate(389.7 405) rotate(-90) scale(0.88 1)" >20</text>
<text x="0" y="0" font-size="7.4" text-anchor="middle" fill="#111" font-weight="normal" dominant-baseline="central" transform="translate(327 404) rotate(-90) scale(0.88 1)" >90</text>
<text x="0" y="0" font-size="4.5" text-anchor="middle" fill="#444" font-weight="normal" dominant-baseline="central" transform="translate(403 427.7)" >N=223 cm</text>
<text x="0" y="0" font-size="6" text-anchor="middle" fill="#111" font-weight="normal" dominant-baseline="central" transform="translate(398.5 440) rotate(-90) scale(0.88 1)" >80</text>
<text x="0" y="0" font-size="6" text-anchor="middle" fill="#111" font-weight="normal" dominant-baseline="central" transform="translate(405 440) rotate(-90) scale(0.88 1)" >218</text>
<text x="0" y="0" font-size="7.4" text-anchor="middle" fill="#111" font-weight="normal" dominant-baseline="central" transform="translate(327.5 388) rotate(-90) scale(0.88 1)" >20</text>
<text x="0" y="0" font-size="7.4" text-anchor="middle" fill="#111" font-weight="normal" dominant-baseline="central" transform="translate(327.5 418) rotate(-90) scale(0.88 1)" >20</text>
<text x="0" y="0" font-size="7.4" text-anchor="middle" fill="#111" font-weight="normal" dominant-baseline="central" transform="translate(418 225) scale(0.88 1)" >3.00</text>
<text x="0" y="0" font-size="7.4" text-anchor="middle" fill="#111" font-weight="normal" dominant-baseline="central" transform="translate(444 225) rotate(-90) scale(0.88 1)" >1.20</text>
<text x="0" y="0" font-size="7.4" text-anchor="middle" fill="#111" font-weight="normal" dominant-baseline="central" transform="translate(459 225) scale(0.88 1)" >1010</text>
<text x="0" y="0" font-size="7.4" text-anchor="middle" fill="#111" font-weight="normal" dominant-baseline="central" transform="translate(504 225) scale(0.88 1)" >3.30</text>
<text x="0" y="0" font-size="7.4" text-anchor="middle" fill="#111" font-weight="normal" dominant-baseline="central" transform="translate(549 225) scale(0.88 1)" >10</text>
<text x="0" y="0" font-size="7.4" text-anchor="middle" fill="#111" font-weight="normal" dominant-baseline="central" transform="translate(382.5 251.4) scale(0.88 1)" >30</text>
<text x="0" y="0" font-size="7.4" text-anchor="middle" fill="#111" font-weight="normal" dominant-baseline="central" transform="translate(399.4 251.4) scale(0.88 1)" >1.00</text>
<text x="0" y="0" font-size="7.4" text-anchor="middle" fill="#111" font-weight="normal" dominant-baseline="central" transform="translate(434.8 251.4) scale(0.88 1)" >1.70</text>
<text x="0" y="0" font-size="7.4" text-anchor="middle" fill="#111" font-weight="normal" dominant-baseline="central" transform="translate(455.9 251.4) scale(0.88 1)" >10</text>
<text x="0" y="0" font-size="7.4" text-anchor="middle" fill="#111" font-weight="normal" dominant-baseline="central" transform="translate(444 264.9) rotate(-90) scale(0.88 1)" >1.45</text>
<text x="0" y="0" font-size="7.4" text-anchor="middle" fill="#111" font-weight="normal" dominant-baseline="central" transform="translate(481.1 248) rotate(-90) scale(0.88 1)" >2.55</text>
<text x="0" y="0" font-size="7.4" text-anchor="middle" fill="#111" font-weight="normal" dominant-baseline="central" transform="translate(479.5 281) rotate(-90) scale(0.88 1)" >10</text>
<text x="0" y="0" font-size="7.4" text-anchor="middle" fill="#111" font-weight="normal" dominant-baseline="central" transform="translate(443.2 243.8) rotate(-90) scale(0.88 1)" >10</text>
<text x="0" y="0" font-size="7.4" text-anchor="middle" fill="#111" font-weight="normal" dominant-baseline="central" transform="translate(482 349) rotate(-90) scale(0.88 1)" >5.10</text>
<text x="0" y="0" font-size="7.4" text-anchor="middle" fill="#111" font-weight="normal" dominant-baseline="central" transform="translate(455 358) scale(0.88 1)" >±0.00</text>
<text x="0" y="0" font-size="7.4" text-anchor="middle" fill="#111" font-weight="normal" dominant-baseline="central" transform="translate(488 400) scale(0.88 1)" >4.80</text>
<text x="0" y="0" font-size="4.5" text-anchor="middle" fill="#444" font-weight="normal" dominant-baseline="central" transform="translate(564.6 251.4)" >200</text>
<text x="0" y="0" font-size="4.5" text-anchor="middle" fill="#444" font-weight="normal" dominant-baseline="central" transform="translate(564.6 257)" >235</text>
<circle cx="572.5" cy="254.5" r="2.8" fill="none" stroke="#666" stroke-width="0.5"/>
<text x="0" y="0" font-size="4.5" text-anchor="middle" fill="#444" font-weight="normal" dominant-baseline="central" transform="translate(544.4 255.6) rotate(-90)" >N=235 cm</text>
<text x="0" y="0" font-size="4.5" text-anchor="middle" fill="#444" font-weight="normal" dominant-baseline="central" transform="translate(566 353)" >400</text>
<text x="0" y="0" font-size="4.5" text-anchor="middle" fill="#444" font-weight="normal" dominant-baseline="central" transform="translate(566 359)" >235</text>
<circle cx="574.5" cy="356.5" r="2.8" fill="none" stroke="#666" stroke-width="0.5"/>
<text x="0" y="0" font-size="4.5" text-anchor="middle" fill="#444" font-weight="normal" dominant-baseline="central" transform="translate(545 355) rotate(-90)" >N=235 cm</text>
<line x1="551" y1="356" x2="563" y2="356" stroke="#777" stroke-width="0.5" />
<line x1="551" y1="254.5" x2="562" y2="254.5" stroke="#777" stroke-width="0.5" />
<text x="0" y="0" font-size="7.4" text-anchor="middle" fill="#111" font-weight="normal" dominant-baseline="central" transform="translate(599 374.8) rotate(-90) scale(0.88 1)" >14.80</text>
<text x="0" y="0" font-size="7.4" text-anchor="middle" fill="#111" font-weight="normal" dominant-baseline="central" transform="translate(587.7 399.7) scale(0.88 1)" >±0.00</text>
<text x="0" y="0" font-size="7.4" text-anchor="middle" fill="#111" font-weight="normal" dominant-baseline="central" transform="translate(422 497) scale(0.88 1)" >25</text>
<text x="0" y="0" font-size="7.4" text-anchor="middle" fill="#111" font-weight="normal" dominant-baseline="central" transform="translate(460 497.6) scale(0.88 1)" >2.60</text>
<text x="0" y="0" font-size="7.4" text-anchor="middle" fill="#111" font-weight="normal" dominant-baseline="central" transform="translate(527 497.6) scale(0.88 1)" >2.20</text>
<text x="0" y="0" font-size="7.4" text-anchor="middle" fill="#111" font-weight="normal" dominant-baseline="central" transform="translate(438.5 474.3) rotate(-90) scale(0.88 1)" >2.85</text>
<text x="0" y="0" font-size="7.4" text-anchor="middle" fill="#111" font-weight="normal" dominant-baseline="central" transform="translate(481.6 467) rotate(-90) scale(0.88 1)" >3.45</text>
<text x="0" y="0" font-size="6.5" text-anchor="middle" fill="#111" font-weight="normal" dominant-baseline="central" transform="translate(437 429.7) rotate(-90) scale(0.88 1)" >25 35</text>
<text x="0" y="0" font-size="4.5" text-anchor="middle" fill="#444" font-weight="normal" dominant-baseline="central" transform="translate(547 480) rotate(-90)" >N=235 cm</text>
<text x="0" y="0" font-size="4.5" text-anchor="middle" fill="#444" font-weight="normal" dominant-baseline="central" transform="translate(566 490)" >400</text>
<text x="0" y="0" font-size="4.5" text-anchor="middle" fill="#444" font-weight="normal" dominant-baseline="central" transform="translate(566 496)" >235</text>
<text x="0" y="0" font-size="7.4" text-anchor="middle" fill="#111" font-weight="normal" dominant-baseline="central" transform="translate(463 523) rotate(-90) scale(0.88 1)" >80</text>
<text x="0" y="0" font-size="7.4" text-anchor="middle" fill="#111" font-weight="normal" dominant-baseline="central" transform="translate(482 535) rotate(-90) scale(0.88 1)" >1.85</text>
<text x="0" y="0" font-size="7.4" text-anchor="middle" fill="#111" font-weight="normal" dominant-baseline="central" transform="translate(502 547) scale(0.88 1)" >3.80</text>
<text x="0" y="0" font-size="7.4" text-anchor="middle" fill="#111" font-weight="normal" dominant-baseline="central" transform="translate(444 535) rotate(-90) scale(0.88 1)" >2.05</text>
<text x="0" y="0" font-size="7.4" text-anchor="middle" fill="#111" font-weight="normal" dominant-baseline="central" transform="translate(463 552) rotate(-90) scale(0.88 1)" >1.15</text>
<text x="0" y="0" font-size="7.4" text-anchor="middle" fill="#111" font-weight="normal" dominant-baseline="central" transform="translate(436 547) scale(0.88 1)" >90</text>
<text x="0" y="0" font-size="7.4" text-anchor="middle" fill="#111" font-weight="normal" dominant-baseline="central" transform="translate(451 547) scale(0.88 1)" >10</text>
<text x="0" y="0" font-size="4.5" text-anchor="middle" fill="#444" font-weight="normal" dominant-baseline="central" transform="translate(436 555)" >N=236 cm</text>
<text x="0" y="0" font-size="4.5" text-anchor="middle" fill="#444" font-weight="normal" dominant-baseline="central" transform="translate(436 560)" >P=120 cm</text>
<text x="0" y="0" font-size="4.5" text-anchor="middle" fill="#444" font-weight="normal" dominant-baseline="central" transform="translate(455 525) rotate(-90)" >N=223 cm</text>
<text x="0" y="0" font-size="4.5" text-anchor="middle" fill="#444" font-weight="normal" dominant-baseline="central" transform="translate(437 518)" >110</text>
<text x="0" y="0" font-size="4.5" text-anchor="middle" fill="#444" font-weight="normal" dominant-baseline="central" transform="translate(437 524)" >218</text>
<text x="0" y="0" font-size="6.5" text-anchor="middle" fill="#111" font-weight="normal" dominant-baseline="central" transform="translate(421.5 540) rotate(-90) scale(0.88 1)" >25</text>
<text x="0" y="0" font-size="7.4" text-anchor="middle" fill="#111" font-weight="normal" dominant-baseline="central" transform="translate(325 468.6) rotate(-90) scale(0.88 1)" >2.40</text>
<text x="0" y="0" font-size="7.4" text-anchor="middle" fill="#111" font-weight="normal" dominant-baseline="central" transform="translate(353 468.6) rotate(-90) scale(0.88 1)" >1.20</text>
<text x="0" y="0" font-size="7.4" text-anchor="middle" fill="#111" font-weight="normal" dominant-baseline="central" transform="translate(353 445) rotate(-90) scale(0.88 1)" >60</text>
<text x="0" y="0" font-size="7.4" text-anchor="middle" fill="#111" font-weight="normal" dominant-baseline="central" transform="translate(353 491) rotate(-90) scale(0.88 1)" >60</text>
<text x="0" y="0" font-size="7.4" text-anchor="middle" fill="#111" font-weight="normal" dominant-baseline="central" transform="translate(353 500) rotate(-90) scale(0.88 1)" >15</text>
<text x="0" y="0" font-size="7.4" text-anchor="middle" fill="#111" font-weight="normal" dominant-baseline="central" transform="translate(353 508) rotate(-90) scale(0.88 1)" >60</text>
<text x="0" y="0" font-size="7.4" text-anchor="middle" fill="#111" font-weight="normal" dominant-baseline="central" transform="translate(325 532) rotate(-90) scale(0.88 1)" >2.40</text>
<text x="0" y="0" font-size="7.4" text-anchor="middle" fill="#111" font-weight="normal" dominant-baseline="central" transform="translate(353 532) rotate(-90) scale(0.88 1)" >1.20</text>
<text x="0" y="0" font-size="7.4" text-anchor="middle" fill="#111" font-weight="normal" dominant-baseline="central" transform="translate(353 556) rotate(-90) scale(0.88 1)" >60</text>
<text x="0" y="0" font-size="7.4" text-anchor="middle" fill="#111" font-weight="normal" dominant-baseline="central" transform="translate(324 500) rotate(-90) scale(0.88 1)" >10</text>
<text x="0" y="0" font-size="4.5" text-anchor="middle" fill="#444" font-weight="normal" dominant-baseline="central" transform="translate(369 463)" >110</text>
<text x="0" y="0" font-size="4.5" text-anchor="middle" fill="#444" font-weight="normal" dominant-baseline="central" transform="translate(369 469)" >218</text>
<text x="0" y="0" font-size="4.5" text-anchor="middle" fill="#444" font-weight="normal" dominant-baseline="central" transform="translate(369 527)" >110</text>
<text x="0" y="0" font-size="4.5" text-anchor="middle" fill="#444" font-weight="normal" dominant-baseline="central" transform="translate(369 533)" >218</text>
<text x="0" y="0" font-size="4.5" text-anchor="middle" fill="#444" font-weight="normal" dominant-baseline="central" transform="translate(385 477) rotate(-90)" >N=223 cm</text>
<text x="0" y="0" font-size="4.5" text-anchor="middle" fill="#444" font-weight="normal" dominant-baseline="central" transform="translate(385 540) rotate(-90)" >N=223 cm</text>
<text x="0" y="0" font-size="7.4" text-anchor="middle" fill="#111" font-weight="normal" dominant-baseline="central" transform="translate(340.7 547.5) scale(0.88 1)" >2.70</text>
<text x="0" y="0" font-size="7.4" text-anchor="middle" fill="#111" font-weight="normal" dominant-baseline="central" transform="translate(382 547.5) scale(0.88 1)" >10</text>
<text x="0" y="0" font-size="7.4" text-anchor="middle" fill="#111" font-weight="normal" dominant-baseline="central" transform="translate(401.9 547.5) scale(0.88 1)" >1.40</text>
<text x="0" y="0" font-size="7.4" text-anchor="middle" fill="#111" font-weight="normal" dominant-baseline="central" transform="translate(390.6 500.5) rotate(-90) scale(0.88 1)" >4.90</text>
<text x="0" y="0" font-size="4.5" text-anchor="middle" fill="#444" font-weight="normal" dominant-baseline="central" transform="translate(402 555)" >N=235 cm</text>
<text x="0" y="0" font-size="4.5" text-anchor="middle" fill="#444" font-weight="normal" dominant-baseline="central" transform="translate(402 560)" >P=120 cm</text>
<text x="0" y="0" font-size="6" text-anchor="middle" fill="#111" font-weight="normal" dominant-baseline="central" transform="translate(408.8 577.4) rotate(-90) scale(0.88 1)" >80</text>
<text x="0" y="0" font-size="6" text-anchor="middle" fill="#111" font-weight="normal" dominant-baseline="central" transform="translate(413.59999999999997 577.4) rotate(-90) scale(0.88 1)" >80</text>
<ellipse cx="411.2" cy="586.1" rx="4" ry="2.6" fill="none" stroke="#444" stroke-width="0.5"/>
<text x="0" y="0" font-size="4.5" text-anchor="middle" fill="#333" font-weight="normal" dominant-baseline="central" transform="translate(411.2 586.3)" >1</text>
<line x1="411.2" y1="571" x2="411.2" y2="583" stroke="#777" stroke-width="0.4" />
<text x="0" y="0" font-size="6" text-anchor="middle" fill="#111" font-weight="normal" dominant-baseline="central" transform="translate(432.1 577.4) rotate(-90) scale(0.88 1)" >80</text>
<text x="0" y="0" font-size="6" text-anchor="middle" fill="#111" font-weight="normal" dominant-baseline="central" transform="translate(436.9 577.4) rotate(-90) scale(0.88 1)" >80</text>
<ellipse cx="434.5" cy="586.1" rx="4" ry="2.6" fill="none" stroke="#444" stroke-width="0.5"/>
<text x="0" y="0" font-size="4.5" text-anchor="middle" fill="#333" font-weight="normal" dominant-baseline="central" transform="translate(434.5 586.3)" >1</text>
<line x1="434.5" y1="571" x2="434.5" y2="583" stroke="#777" stroke-width="0.4" />
<text x="0" y="0" font-size="6" text-anchor="middle" fill="#111" font-weight="normal" dominant-baseline="central" transform="translate(388.7 197) rotate(-90) scale(0.88 1)" >80</text>
<text x="0" y="0" font-size="6" text-anchor="middle" fill="#111" font-weight="normal" dominant-baseline="central" transform="translate(395.8 197) rotate(-90) scale(0.88 1)" >80</text>
<ellipse cx="392.3" cy="190" rx="4" ry="2.6" fill="none" stroke="#444" stroke-width="0.5"/>
<text x="0" y="0" font-size="4.5" text-anchor="middle" fill="#333" font-weight="normal" dominant-baseline="central" transform="translate(392.3 190.2)" >1</text>
<line x1="392.3" y1="193" x2="392.3" y2="215" stroke="#777" stroke-width="0.4" />
<text x="0" y="0" font-size="7.4" text-anchor="middle" fill="#111" font-weight="normal" dominant-baseline="central" transform="translate(418 190) rotate(-90) scale(0.88 1)" >1.00</text>
<line x1="422.7" y1="175.5" x2="422.7" y2="204.5" stroke="#555" stroke-width="0.6" />
<line x1="421.2" y1="178.0" x2="424.2" y2="175.0" stroke="#444" stroke-width="0.6"/>
<line x1="421.2" y1="205.0" x2="424.2" y2="202.0" stroke="#444" stroke-width="0.6"/>
<circle cx="435" cy="191.4" r="1.5" fill="none" stroke="#444" stroke-width="0.6"/>
<text x="0" y="0" font-size="7.4" text-anchor="middle" fill="#111" font-weight="normal" dominant-baseline="central" transform="translate(617 549) scale(0.88 1)" >25</text>
<text x="0" y="0" font-size="7.4" text-anchor="middle" fill="#111" font-weight="normal" dominant-baseline="central" transform="translate(587 553) scale(0.88 1)" >2.10</text>
<text x="0" y="0" font-size="7.4" text-anchor="middle" fill="#111" font-weight="normal" dominant-baseline="central" transform="translate(559 553) scale(0.88 1)" >5</text>
<line x1="558" y1="553.2" x2="614.8" y2="553.2" stroke="#777" stroke-width="0.5" />
<text x="0" y="0" font-size="6" text-anchor="middle" fill="#111" font-weight="normal" dominant-baseline="central" transform="translate(598.4 180.3) rotate(-90) scale(0.88 1)" >30</text>
<g opacity="0.6"><text x="592" y="434" style="font-family:Liberation Serif,serif" font-weight="bold" font-size="56" text-anchor="middle" fill="#fff" stroke="#d6d6d6" stroke-width="0.9" textLength="333" lengthAdjust="spacingAndGlyphs">Smart Invest</text><text x="766" y="405" style="font-family:Liberation Serif,serif" font-size="12" text-anchor="middle" fill="#fff" stroke="#d6d6d6" stroke-width="0.6">®</text><text x="593" y="461" style="font-family:Liberation Serif,serif" font-weight="bold" font-size="17" text-anchor="middle" fill="#fff" stroke="#dddddd" stroke-width="0.6" textLength="118" lengthAdjust="spacingAndGlyphs">PROPERTIES</text><text x="591" y="362" style="font-family:Liberation Serif,serif" font-weight="bold" font-size="80" text-anchor="middle" fill="#fff" stroke="#e6e6e6" stroke-width="1">S</text></g>
<defs><pattern id="p0" x="292.6" y="194" width="8.7" height="18.705" patternUnits="userSpaceOnUse"><path d="M0,0L8.7,9.3525L0,18.705" stroke="#c2c2c2" stroke-width="1.5" fill="none"/></pattern><pattern id="p1" x="301.3" y="162" width="6.5" height="5.655" patternUnits="userSpaceOnUse"><path d="M0,0L6.5,5.655M6.5,0L0,5.655" stroke="#8f8f8f" stroke-width="0.7" fill="none"/></pattern><pattern id="p2" x="333.4" y="162" width="7" height="6.09" patternUnits="userSpaceOnUse"><path d="M0,0L7,6.09M7,0L0,6.09" stroke="#8f8f8f" stroke-width="0.7" fill="none"/></pattern><pattern id="p3" x="340.4" y="193.5" width="15.81" height="9.3" patternUnits="userSpaceOnUse"><path d="M0,9.3L7.905,0L15.81,9.3" stroke="#c2c2c2" stroke-width="1.5" fill="none"/></pattern><pattern id="p4" x="356.8" y="162" width="8.7" height="18.705" patternUnits="userSpaceOnUse"><path d="M0,0L8.7,9.3525L0,18.705" stroke="#c2c2c2" stroke-width="1.5" fill="none"/></pattern><pattern id="p5" x="365.5" y="162" width="7" height="6.09" patternUnits="userSpaceOnUse"><path d="M0,0L7,6.09M7,0L0,6.09" stroke="#8f8f8f" stroke-width="0.7" fill="none"/></pattern><pattern id="p6" x="292.3" y="194" width="9.4" height="20.21" patternUnits="userSpaceOnUse"><path d="M0,0L9.4,10.105L0,20.21" stroke="#c2c2c2" stroke-width="1.5" fill="none"/></pattern><pattern id="p7" x="304.2" y="205.5" width="6.3" height="5.481" patternUnits="userSpaceOnUse"><path d="M0,0L6.3,5.481M6.3,0L0,5.481" stroke="#8f8f8f" stroke-width="0.7" fill="none"/></pattern><pattern id="p8" x="310.5" y="205.5" width="6.5" height="6.5" patternUnits="userSpaceOnUse"><path d="M0,6.5L3.25,0L6.5,6.5" stroke="#8f8f8f" stroke-width="0.7" fill="none"/></pattern><pattern id="p9" x="537.6" y="206.2" width="6.0" height="6" patternUnits="userSpaceOnUse"><path d="M0,6L3.0,0L6.0,6" stroke="#8f8f8f" stroke-width="0.7" fill="none"/></pattern><pattern id="p10" x="549.4" y="206.2" width="6.8" height="5.9159999999999995" patternUnits="userSpaceOnUse"><path d="M0,0L6.8,5.9159999999999995M6.8,0L0,5.9159999999999995" stroke="#8f8f8f" stroke-width="0.7" fill="none"/></pattern><pattern id="p11" x="549.4" y="280.9" width="6.8" height="11.559999999999999" patternUnits="userSpaceOnUse"><path d="M0,0L6.8,11.559999999999999M6.8,0L0,11.559999999999999" stroke="#8f8f8f" stroke-width="0.7" fill="none"/></pattern><pattern id="p12" x="537.8" y="564.2" width="5.8" height="5.8" patternUnits="userSpaceOnUse"><path d="M0,5.8L2.9,0L5.8,5.8" stroke="#8f8f8f" stroke-width="0.7" fill="none"/></pattern><pattern id="p13" x="310.7" y="564" width="7.0" height="7" patternUnits="userSpaceOnUse"><path d="M0,7L3.5,0L7.0,7" stroke="#8f8f8f" stroke-width="0.7" fill="none"/></pattern><pattern id="p14" x="379" y="563.8" width="7.0" height="7" patternUnits="userSpaceOnUse"><path d="M0,7L3.5,0L7.0,7" stroke="#8f8f8f" stroke-width="0.7" fill="none"/></pattern><pattern id="p15" x="259.5" y="567" width="6.8" height="5.9159999999999995" patternUnits="userSpaceOnUse"><path d="M0,0L6.8,5.9159999999999995M6.8,0L0,5.9159999999999995" stroke="#8f8f8f" stroke-width="0.7" fill="none"/></pattern><pattern id="p16" x="259.5" y="567" width="6.0" height="6" patternUnits="userSpaceOnUse"><path d="M0,6L3.0,0L6.0,6" stroke="#8f8f8f" stroke-width="0.7" fill="none"/></pattern><pattern id="p17" x="301.3" y="571" width="6.7" height="5.829" patternUnits="userSpaceOnUse"><path d="M0,0L6.7,5.829M6.7,0L0,5.829" stroke="#8f8f8f" stroke-width="0.7" fill="none"/></pattern><pattern id="p18" x="308" y="571" width="18.53" height="10.9" patternUnits="userSpaceOnUse"><path d="M0,10.9L9.265,0L18.53,10.9" stroke="#c2c2c2" stroke-width="1.5" fill="none"/></pattern><pattern id="p19" x="387.9" y="581.9" width="7.7" height="16.555" patternUnits="userSpaceOnUse"><path d="M0,0L7.7,8.2775L0,16.555" stroke="#c2c2c2" stroke-width="1.5" fill="none"/></pattern><pattern id="p20" x="396.6" y="571" width="6.8" height="5.9159999999999995" patternUnits="userSpaceOnUse"><path d="M0,0L6.8,5.9159999999999995M6.8,0L0,5.9159999999999995" stroke="#8f8f8f" stroke-width="0.7" fill="none"/></pattern><pattern id="p21" x="310.7" y="362" width="6.2" height="6.2" patternUnits="userSpaceOnUse"><path d="M0,6.2L3.1,0L6.2,6.2" stroke="#8f8f8f" stroke-width="0.7" fill="none"/></pattern><pattern id="p22" x="372.8" y="323.5" width="5.9" height="5.133" patternUnits="userSpaceOnUse"><path d="M0,0L5.9,5.133M5.9,0L0,5.133" stroke="#8f8f8f" stroke-width="0.7" fill="none"/></pattern><pattern id="p23" x="310.7" y="430.3" width="6.7" height="6.7" patternUnits="userSpaceOnUse"><path d="M0,6.7L3.35,0L6.7,6.7" stroke="#8f8f8f" stroke-width="0.7" fill="none"/></pattern><pattern id="p24" x="418.6" y="415.5" width="7" height="11.9" patternUnits="userSpaceOnUse"><path d="M0,0L7,11.9M7,0L0,11.9" stroke="#8f8f8f" stroke-width="0.7" fill="none"/></pattern><pattern id="p25" x="549.1" y="409.6" width="7" height="11.9" patternUnits="userSpaceOnUse"><path d="M0,0L7,11.9M7,0L0,11.9" stroke="#8f8f8f" stroke-width="0.7" fill="none"/></pattern></defs>
</svg></body></html>
